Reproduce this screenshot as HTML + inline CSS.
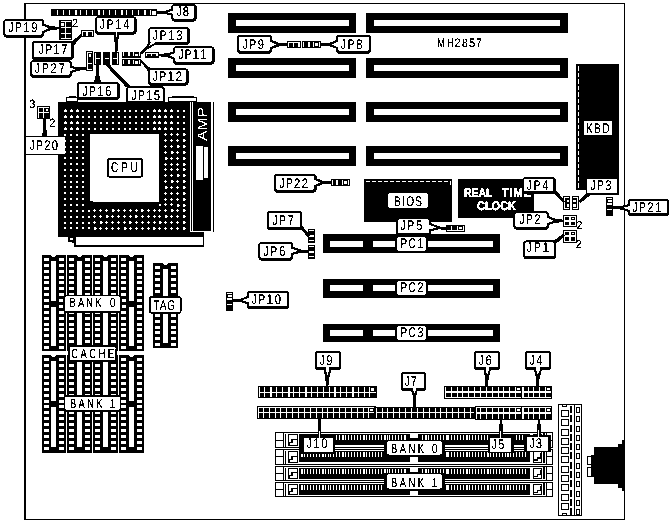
<!DOCTYPE html>
<html><head><meta charset="utf-8"><title>MH2857</title>
<style>
html,body{margin:0;padding:0;background:#fff;}
body{width:672px;height:522px;overflow:hidden;}
svg{display:block;font-family:"Liberation Sans",sans-serif;}
</style></head><body>
<svg width="672" height="522" viewBox="0 0 672 522" shape-rendering="crispEdges" text-rendering="geometricPrecision">
<defs><filter id="bw" x="0" y="0" width="100%" height="100%" color-interpolation-filters="sRGB"><feColorMatrix type="saturate" values="0"/><feComponentTransfer><feFuncR type="discrete" tableValues="0 0 0 1 1"/><feFuncG type="discrete" tableValues="0 0 0 1 1"/><feFuncB type="discrete" tableValues="0 0 0 1 1"/></feComponentTransfer></filter></defs>
<g filter="url(#bw)">
<rect x="0" y="0" width="672" height="522" fill="#fff"/>
<rect x="24" y="3" width="601" height="516.5" fill="#000"/>
<rect x="26" y="4" width="598" height="514.5" fill="#fff"/>
<rect x="228" y="13" width="128" height="20" fill="#000"/>
<rect x="236" y="20" width="113" height="6" fill="#fff"/>
<rect x="366" y="13" width="202" height="20" fill="#000"/>
<rect x="374" y="20" width="186" height="6" fill="#fff"/>
<rect x="228" y="58" width="128" height="20" fill="#000"/>
<rect x="236" y="65" width="113" height="6" fill="#fff"/>
<rect x="366" y="58" width="202" height="20" fill="#000"/>
<rect x="374" y="65" width="186" height="6" fill="#fff"/>
<rect x="228" y="102" width="128" height="20" fill="#000"/>
<rect x="236" y="109" width="113" height="6" fill="#fff"/>
<rect x="366" y="102" width="202" height="20" fill="#000"/>
<rect x="374" y="109" width="186" height="6" fill="#fff"/>
<rect x="228" y="146" width="128" height="20" fill="#000"/>
<rect x="236" y="153" width="113" height="6" fill="#fff"/>
<rect x="366" y="146" width="202" height="20" fill="#000"/>
<rect x="374" y="153" width="186" height="6" fill="#fff"/>
<rect x="323" y="234" width="177" height="19" fill="#000"/>
<rect x="330" y="241" width="33" height="6" fill="#fff"/>
<rect x="373" y="241" width="22" height="6" fill="#fff"/>
<rect x="428" y="241" width="65" height="6" fill="#fff"/>
<rect x="323" y="279" width="177" height="19" fill="#000"/>
<rect x="330" y="285" width="33" height="6" fill="#fff"/>
<rect x="373" y="285" width="22" height="6" fill="#fff"/>
<rect x="428" y="285" width="65" height="6" fill="#fff"/>
<rect x="323" y="324" width="177" height="18" fill="#000"/>
<rect x="330" y="330" width="33" height="6" fill="#fff"/>
<rect x="373" y="330" width="22" height="6" fill="#fff"/>
<rect x="428" y="330" width="65" height="6" fill="#fff"/>
<rect x="576" y="64" width="43" height="126" fill="#000"/>
<line x1="578.5" y1="66" x2="578.5" y2="189" stroke="#fff" stroke-width="1" stroke-dasharray="4.5 2"/>
<rect x="364" y="179" width="88" height="42.5" fill="#000"/>
<line x1="366" y1="181.5" x2="450" y2="181.5" stroke="#fff" stroke-width="1" stroke-dasharray="4 2"/>
<line x1="450.5" y1="181" x2="450.5" y2="185" stroke="#fff" stroke-width="1"/>
<rect x="458" y="179" width="75.5" height="38.5" fill="#000"/>
<text transform="translate(464,196.5) scale(0.85,1)" font-size="12.5" textLength="33.53" lengthAdjust="spacing" fill="#fff" stroke="#fff" stroke-width="0.55" font-weight="bold">REAL</text>
<text transform="translate(502,196.5) scale(0.85,1)" font-size="12.5" textLength="34.12" lengthAdjust="spacing" fill="#fff" stroke="#fff" stroke-width="0.55" font-weight="bold">TIME</text>
<text transform="translate(477,210) scale(0.88,1)" font-size="12.5" textLength="44.32" lengthAdjust="spacing" fill="#fff" stroke="#fff" stroke-width="0.55" font-weight="bold">CLOCK</text>
<text transform="translate(437.2,46.8) scale(0.74,1)" font-size="12.3" fill="#000" stroke="#000" stroke-width="0.04">M</text>
<text transform="translate(447.1,46.8) scale(0.77,1)" font-size="12.3" fill="#000" stroke="#000" stroke-width="0.04">H</text>
<text transform="translate(454.6,46.8) scale(0.9,1)" font-size="12.3" fill="#000" stroke="#000" stroke-width="0.04">2</text>
<text transform="translate(462.1,46.8) scale(0.85,1)" font-size="12.3" fill="#000" stroke="#000" stroke-width="0.04">8</text>
<text transform="translate(469.1,46.8) scale(0.9,1)" font-size="12.3" fill="#000" stroke="#000" stroke-width="0.04">5</text>
<text transform="translate(476.1,46.8) scale(0.85,1)" font-size="12.3" fill="#000" stroke="#000" stroke-width="0.04">7</text>
<rect x="66" y="96.5" width="12" height="5" fill="#000"/>
<rect x="67" y="97.5" width="10" height="3" fill="#fff"/>
<rect x="69" y="96" width="7" height="1.5" fill="#000"/>
<rect x="168" y="96.5" width="29" height="5" fill="#000"/>
<rect x="169" y="97.5" width="27" height="3" fill="#fff"/>
<rect x="172" y="96" width="22" height="1.5" fill="#000"/>
<rect x="58" y="102" width="132" height="134.5" fill="#000"/>
<rect x="190" y="232" width="14" height="4.5" fill="#000"/>
<rect x="64" y="110" width="3" height="2" fill="#fff"/>
<rect x="65" y="109" width="1" height="1" fill="#fff"/>
<rect x="64" y="116" width="3" height="2" fill="#fff"/>
<rect x="65" y="115" width="1" height="1" fill="#fff"/>
<rect x="64" y="122" width="3" height="2" fill="#fff"/>
<rect x="65" y="121" width="1" height="1" fill="#fff"/>
<rect x="64" y="128" width="3" height="2" fill="#fff"/>
<rect x="65" y="127" width="1" height="1" fill="#fff"/>
<rect x="64" y="134" width="2" height="2" fill="#fff"/>
<rect x="64" y="140" width="2" height="2" fill="#fff"/>
<rect x="64" y="146" width="2" height="2" fill="#fff"/>
<rect x="64" y="151" width="2" height="2" fill="#fff"/>
<rect x="64" y="157" width="2" height="2" fill="#fff"/>
<rect x="64" y="163" width="2" height="2" fill="#fff"/>
<rect x="64" y="169" width="2" height="2" fill="#fff"/>
<rect x="64" y="175" width="2" height="2" fill="#fff"/>
<rect x="64" y="181" width="2" height="2" fill="#fff"/>
<rect x="64" y="186" width="2" height="2" fill="#fff"/>
<rect x="64" y="192" width="2" height="2" fill="#fff"/>
<rect x="64" y="198" width="2" height="2" fill="#fff"/>
<rect x="64" y="204" width="2" height="2" fill="#fff"/>
<rect x="64" y="210" width="2" height="2" fill="#fff"/>
<rect x="64" y="216" width="2" height="2" fill="#fff"/>
<rect x="64" y="222" width="2" height="2" fill="#fff"/>
<rect x="64" y="227" width="2" height="2" fill="#fff"/>
<rect x="70" y="110" width="3" height="2" fill="#fff"/>
<rect x="71" y="109" width="1" height="1" fill="#fff"/>
<rect x="70" y="116" width="3" height="2" fill="#fff"/>
<rect x="71" y="115" width="1" height="1" fill="#fff"/>
<rect x="70" y="122" width="3" height="2" fill="#fff"/>
<rect x="71" y="121" width="1" height="1" fill="#fff"/>
<rect x="70" y="128" width="3" height="2" fill="#fff"/>
<rect x="71" y="127" width="1" height="1" fill="#fff"/>
<rect x="70" y="134" width="2" height="2" fill="#fff"/>
<rect x="70" y="140" width="2" height="2" fill="#fff"/>
<rect x="70" y="146" width="2" height="2" fill="#fff"/>
<rect x="70" y="151" width="2" height="2" fill="#fff"/>
<rect x="70" y="157" width="2" height="2" fill="#fff"/>
<rect x="70" y="163" width="2" height="2" fill="#fff"/>
<rect x="70" y="169" width="2" height="2" fill="#fff"/>
<rect x="70" y="175" width="2" height="2" fill="#fff"/>
<rect x="70" y="181" width="2" height="2" fill="#fff"/>
<rect x="70" y="186" width="2" height="2" fill="#fff"/>
<rect x="70" y="192" width="2" height="2" fill="#fff"/>
<rect x="70" y="198" width="2" height="2" fill="#fff"/>
<rect x="70" y="204" width="2" height="2" fill="#fff"/>
<rect x="70" y="210" width="2" height="2" fill="#fff"/>
<rect x="70" y="216" width="2" height="2" fill="#fff"/>
<rect x="70" y="222" width="2" height="2" fill="#fff"/>
<rect x="70" y="227" width="2" height="2" fill="#fff"/>
<rect x="76" y="110" width="3" height="2" fill="#fff"/>
<rect x="77" y="109" width="1" height="1" fill="#fff"/>
<rect x="76" y="116" width="3" height="2" fill="#fff"/>
<rect x="77" y="115" width="1" height="1" fill="#fff"/>
<rect x="76" y="122" width="3" height="2" fill="#fff"/>
<rect x="77" y="121" width="1" height="1" fill="#fff"/>
<rect x="76" y="128" width="3" height="2" fill="#fff"/>
<rect x="77" y="127" width="1" height="1" fill="#fff"/>
<rect x="76" y="134" width="2" height="2" fill="#fff"/>
<rect x="76" y="140" width="2" height="2" fill="#fff"/>
<rect x="76" y="146" width="2" height="2" fill="#fff"/>
<rect x="76" y="151" width="2" height="2" fill="#fff"/>
<rect x="76" y="157" width="2" height="2" fill="#fff"/>
<rect x="76" y="163" width="2" height="2" fill="#fff"/>
<rect x="76" y="169" width="2" height="2" fill="#fff"/>
<rect x="76" y="175" width="2" height="2" fill="#fff"/>
<rect x="76" y="181" width="2" height="2" fill="#fff"/>
<rect x="76" y="186" width="2" height="2" fill="#fff"/>
<rect x="76" y="192" width="2" height="2" fill="#fff"/>
<rect x="76" y="198" width="2" height="2" fill="#fff"/>
<rect x="76" y="204" width="2" height="2" fill="#fff"/>
<rect x="76" y="210" width="2" height="2" fill="#fff"/>
<rect x="76" y="216" width="2" height="2" fill="#fff"/>
<rect x="76" y="222" width="2" height="2" fill="#fff"/>
<rect x="76" y="227" width="2" height="2" fill="#fff"/>
<rect x="82" y="110" width="2" height="2" fill="#fff"/>
<rect x="82" y="116" width="2" height="2" fill="#fff"/>
<rect x="82" y="122" width="2" height="2" fill="#fff"/>
<rect x="82" y="128" width="2" height="2" fill="#fff"/>
<rect x="82" y="134" width="2" height="2" fill="#fff"/>
<rect x="82" y="140" width="2" height="2" fill="#fff"/>
<rect x="82" y="146" width="2" height="2" fill="#fff"/>
<rect x="82" y="151" width="2" height="2" fill="#fff"/>
<rect x="82" y="157" width="2" height="2" fill="#fff"/>
<rect x="82" y="163" width="2" height="2" fill="#fff"/>
<rect x="82" y="169" width="2" height="2" fill="#fff"/>
<rect x="82" y="175" width="2" height="2" fill="#fff"/>
<rect x="82" y="181" width="2" height="2" fill="#fff"/>
<rect x="82" y="186" width="2" height="2" fill="#fff"/>
<rect x="82" y="192" width="2" height="2" fill="#fff"/>
<rect x="82" y="198" width="2" height="2" fill="#fff"/>
<rect x="82" y="204" width="2" height="2" fill="#fff"/>
<rect x="82" y="210" width="2" height="2" fill="#fff"/>
<rect x="82" y="216" width="2" height="2" fill="#fff"/>
<rect x="82" y="222" width="2" height="2" fill="#fff"/>
<rect x="82" y="227" width="2" height="2" fill="#fff"/>
<rect x="88" y="110" width="2" height="2" fill="#fff"/>
<rect x="88" y="116" width="2" height="2" fill="#fff"/>
<rect x="88" y="122" width="2" height="2" fill="#fff"/>
<rect x="88" y="128" width="2" height="2" fill="#fff"/>
<rect x="88" y="210" width="2" height="2" fill="#fff"/>
<rect x="88" y="216" width="2" height="2" fill="#fff"/>
<rect x="88" y="222" width="2" height="2" fill="#fff"/>
<rect x="88" y="227" width="2" height="2" fill="#fff"/>
<rect x="94" y="110" width="2" height="2" fill="#fff"/>
<rect x="94" y="116" width="2" height="2" fill="#fff"/>
<rect x="94" y="122" width="2" height="2" fill="#fff"/>
<rect x="94" y="128" width="2" height="2" fill="#fff"/>
<rect x="93" y="210" width="3" height="1" fill="#fff"/>
<rect x="94" y="209" width="1" height="3" fill="#fff"/>
<rect x="93" y="216" width="3" height="1" fill="#fff"/>
<rect x="94" y="215" width="1" height="3" fill="#fff"/>
<rect x="93" y="222" width="3" height="1" fill="#fff"/>
<rect x="94" y="221" width="1" height="3" fill="#fff"/>
<rect x="94" y="227" width="1" height="3" fill="#fff"/>
<rect x="95" y="227" width="1" height="3" fill="#fff"/>
<rect x="96" y="228" width="1" height="1" fill="#fff"/>
<rect x="100" y="110" width="2" height="2" fill="#fff"/>
<rect x="100" y="116" width="2" height="2" fill="#fff"/>
<rect x="100" y="122" width="2" height="2" fill="#fff"/>
<rect x="100" y="128" width="2" height="2" fill="#fff"/>
<rect x="99" y="210" width="3" height="1" fill="#fff"/>
<rect x="100" y="209" width="1" height="3" fill="#fff"/>
<rect x="99" y="216" width="3" height="1" fill="#fff"/>
<rect x="100" y="215" width="1" height="3" fill="#fff"/>
<rect x="100" y="221" width="1" height="3" fill="#fff"/>
<rect x="101" y="221" width="1" height="3" fill="#fff"/>
<rect x="102" y="222" width="1" height="1" fill="#fff"/>
<rect x="99" y="228" width="3" height="1" fill="#fff"/>
<rect x="100" y="227" width="1" height="3" fill="#fff"/>
<rect x="106" y="110" width="2" height="2" fill="#fff"/>
<rect x="106" y="116" width="2" height="2" fill="#fff"/>
<rect x="106" y="122" width="2" height="2" fill="#fff"/>
<rect x="106" y="128" width="2" height="2" fill="#fff"/>
<rect x="105" y="210" width="3" height="1" fill="#fff"/>
<rect x="106" y="209" width="1" height="3" fill="#fff"/>
<rect x="106" y="215" width="1" height="3" fill="#fff"/>
<rect x="107" y="215" width="1" height="3" fill="#fff"/>
<rect x="108" y="216" width="1" height="1" fill="#fff"/>
<rect x="105" y="222" width="3" height="1" fill="#fff"/>
<rect x="106" y="221" width="1" height="3" fill="#fff"/>
<rect x="105" y="228" width="3" height="1" fill="#fff"/>
<rect x="106" y="227" width="1" height="3" fill="#fff"/>
<rect x="112" y="110" width="2" height="2" fill="#fff"/>
<rect x="112" y="116" width="2" height="2" fill="#fff"/>
<rect x="112" y="122" width="2" height="2" fill="#fff"/>
<rect x="112" y="128" width="2" height="2" fill="#fff"/>
<rect x="112" y="209" width="1" height="3" fill="#fff"/>
<rect x="113" y="209" width="1" height="3" fill="#fff"/>
<rect x="114" y="210" width="1" height="1" fill="#fff"/>
<rect x="111" y="216" width="3" height="1" fill="#fff"/>
<rect x="112" y="215" width="1" height="3" fill="#fff"/>
<rect x="111" y="222" width="3" height="1" fill="#fff"/>
<rect x="112" y="221" width="1" height="3" fill="#fff"/>
<rect x="111" y="228" width="3" height="1" fill="#fff"/>
<rect x="112" y="227" width="1" height="3" fill="#fff"/>
<rect x="118" y="110" width="2" height="2" fill="#fff"/>
<rect x="118" y="116" width="2" height="2" fill="#fff"/>
<rect x="118" y="122" width="2" height="2" fill="#fff"/>
<rect x="118" y="128" width="2" height="2" fill="#fff"/>
<rect x="117" y="210" width="3" height="1" fill="#fff"/>
<rect x="118" y="209" width="1" height="3" fill="#fff"/>
<rect x="117" y="216" width="3" height="1" fill="#fff"/>
<rect x="118" y="215" width="1" height="3" fill="#fff"/>
<rect x="117" y="222" width="3" height="1" fill="#fff"/>
<rect x="118" y="221" width="1" height="3" fill="#fff"/>
<rect x="117" y="228" width="3" height="1" fill="#fff"/>
<rect x="118" y="227" width="1" height="3" fill="#fff"/>
<rect x="124" y="110" width="2" height="2" fill="#fff"/>
<rect x="124" y="116" width="2" height="2" fill="#fff"/>
<rect x="124" y="122" width="2" height="2" fill="#fff"/>
<rect x="124" y="128" width="2" height="2" fill="#fff"/>
<rect x="123" y="210" width="3" height="1" fill="#fff"/>
<rect x="124" y="209" width="1" height="3" fill="#fff"/>
<rect x="123" y="216" width="3" height="1" fill="#fff"/>
<rect x="124" y="215" width="1" height="3" fill="#fff"/>
<rect x="123" y="222" width="3" height="1" fill="#fff"/>
<rect x="124" y="221" width="1" height="3" fill="#fff"/>
<rect x="124" y="227" width="1" height="3" fill="#fff"/>
<rect x="125" y="227" width="1" height="3" fill="#fff"/>
<rect x="126" y="228" width="1" height="1" fill="#fff"/>
<rect x="129" y="110" width="2" height="2" fill="#fff"/>
<rect x="129" y="116" width="2" height="2" fill="#fff"/>
<rect x="129" y="122" width="2" height="2" fill="#fff"/>
<rect x="129" y="128" width="2" height="2" fill="#fff"/>
<rect x="129" y="210" width="3" height="1" fill="#fff"/>
<rect x="130" y="209" width="1" height="3" fill="#fff"/>
<rect x="129" y="216" width="3" height="1" fill="#fff"/>
<rect x="130" y="215" width="1" height="3" fill="#fff"/>
<rect x="129" y="221" width="1" height="3" fill="#fff"/>
<rect x="130" y="221" width="1" height="3" fill="#fff"/>
<rect x="131" y="222" width="1" height="1" fill="#fff"/>
<rect x="129" y="228" width="3" height="1" fill="#fff"/>
<rect x="130" y="227" width="1" height="3" fill="#fff"/>
<rect x="135" y="110" width="2" height="2" fill="#fff"/>
<rect x="135" y="116" width="2" height="2" fill="#fff"/>
<rect x="135" y="122" width="2" height="2" fill="#fff"/>
<rect x="135" y="128" width="2" height="2" fill="#fff"/>
<rect x="135" y="210" width="3" height="1" fill="#fff"/>
<rect x="136" y="209" width="1" height="3" fill="#fff"/>
<rect x="135" y="215" width="1" height="3" fill="#fff"/>
<rect x="136" y="215" width="1" height="3" fill="#fff"/>
<rect x="137" y="216" width="1" height="1" fill="#fff"/>
<rect x="135" y="222" width="3" height="1" fill="#fff"/>
<rect x="136" y="221" width="1" height="3" fill="#fff"/>
<rect x="135" y="228" width="3" height="1" fill="#fff"/>
<rect x="136" y="227" width="1" height="3" fill="#fff"/>
<rect x="141" y="110" width="2" height="2" fill="#fff"/>
<rect x="141" y="116" width="2" height="2" fill="#fff"/>
<rect x="141" y="122" width="2" height="2" fill="#fff"/>
<rect x="141" y="128" width="2" height="2" fill="#fff"/>
<rect x="141" y="209" width="1" height="3" fill="#fff"/>
<rect x="142" y="209" width="1" height="3" fill="#fff"/>
<rect x="143" y="210" width="1" height="1" fill="#fff"/>
<rect x="141" y="216" width="3" height="1" fill="#fff"/>
<rect x="142" y="215" width="1" height="3" fill="#fff"/>
<rect x="141" y="222" width="3" height="1" fill="#fff"/>
<rect x="142" y="221" width="1" height="3" fill="#fff"/>
<rect x="141" y="228" width="3" height="1" fill="#fff"/>
<rect x="142" y="227" width="1" height="3" fill="#fff"/>
<rect x="147" y="110" width="2" height="2" fill="#fff"/>
<rect x="147" y="116" width="2" height="2" fill="#fff"/>
<rect x="147" y="122" width="2" height="2" fill="#fff"/>
<rect x="147" y="128" width="2" height="2" fill="#fff"/>
<rect x="147" y="210" width="3" height="1" fill="#fff"/>
<rect x="148" y="209" width="1" height="3" fill="#fff"/>
<rect x="147" y="216" width="3" height="1" fill="#fff"/>
<rect x="148" y="215" width="1" height="3" fill="#fff"/>
<rect x="147" y="222" width="3" height="1" fill="#fff"/>
<rect x="148" y="221" width="1" height="3" fill="#fff"/>
<rect x="147" y="228" width="3" height="1" fill="#fff"/>
<rect x="148" y="227" width="1" height="3" fill="#fff"/>
<rect x="153" y="110" width="3" height="2" fill="#fff"/>
<rect x="154" y="109" width="1" height="1" fill="#fff"/>
<rect x="153" y="116" width="3" height="2" fill="#fff"/>
<rect x="154" y="115" width="1" height="1" fill="#fff"/>
<rect x="153" y="122" width="3" height="2" fill="#fff"/>
<rect x="154" y="121" width="1" height="1" fill="#fff"/>
<rect x="153" y="128" width="3" height="2" fill="#fff"/>
<rect x="154" y="127" width="1" height="1" fill="#fff"/>
<rect x="153" y="210" width="3" height="1" fill="#fff"/>
<rect x="154" y="209" width="1" height="3" fill="#fff"/>
<rect x="153" y="216" width="3" height="1" fill="#fff"/>
<rect x="154" y="215" width="1" height="3" fill="#fff"/>
<rect x="153" y="222" width="3" height="1" fill="#fff"/>
<rect x="154" y="221" width="1" height="3" fill="#fff"/>
<rect x="153" y="227" width="1" height="3" fill="#fff"/>
<rect x="154" y="227" width="1" height="3" fill="#fff"/>
<rect x="155" y="228" width="1" height="1" fill="#fff"/>
<rect x="158" y="110" width="3" height="2" fill="#fff"/>
<rect x="159" y="109" width="1" height="1" fill="#fff"/>
<rect x="158" y="116" width="3" height="2" fill="#fff"/>
<rect x="159" y="115" width="1" height="1" fill="#fff"/>
<rect x="158" y="122" width="3" height="2" fill="#fff"/>
<rect x="159" y="121" width="1" height="1" fill="#fff"/>
<rect x="158" y="128" width="3" height="2" fill="#fff"/>
<rect x="159" y="127" width="1" height="1" fill="#fff"/>
<rect x="159" y="204" width="2" height="2" fill="#fff"/>
<rect x="158" y="210" width="3" height="1" fill="#fff"/>
<rect x="159" y="209" width="1" height="3" fill="#fff"/>
<rect x="158" y="216" width="3" height="1" fill="#fff"/>
<rect x="159" y="215" width="1" height="3" fill="#fff"/>
<rect x="159" y="221" width="1" height="3" fill="#fff"/>
<rect x="160" y="221" width="1" height="3" fill="#fff"/>
<rect x="161" y="222" width="1" height="1" fill="#fff"/>
<rect x="158" y="228" width="3" height="1" fill="#fff"/>
<rect x="159" y="227" width="1" height="3" fill="#fff"/>
<rect x="164" y="110" width="3" height="2" fill="#fff"/>
<rect x="165" y="109" width="1" height="1" fill="#fff"/>
<rect x="164" y="116" width="3" height="2" fill="#fff"/>
<rect x="165" y="115" width="1" height="1" fill="#fff"/>
<rect x="164" y="122" width="3" height="2" fill="#fff"/>
<rect x="165" y="121" width="1" height="1" fill="#fff"/>
<rect x="164" y="128" width="3" height="2" fill="#fff"/>
<rect x="165" y="127" width="1" height="1" fill="#fff"/>
<rect x="164" y="134" width="3" height="1" fill="#fff"/>
<rect x="165" y="133" width="1" height="3" fill="#fff"/>
<rect x="164" y="140" width="3" height="1" fill="#fff"/>
<rect x="165" y="139" width="1" height="3" fill="#fff"/>
<rect x="164" y="146" width="3" height="1" fill="#fff"/>
<rect x="165" y="145" width="1" height="3" fill="#fff"/>
<rect x="164" y="152" width="3" height="1" fill="#fff"/>
<rect x="165" y="151" width="1" height="3" fill="#fff"/>
<rect x="165" y="157" width="1" height="3" fill="#fff"/>
<rect x="166" y="157" width="1" height="3" fill="#fff"/>
<rect x="167" y="158" width="1" height="1" fill="#fff"/>
<rect x="164" y="164" width="3" height="1" fill="#fff"/>
<rect x="165" y="163" width="1" height="3" fill="#fff"/>
<rect x="164" y="169" width="3" height="1" fill="#fff"/>
<rect x="165" y="168" width="1" height="3" fill="#fff"/>
<rect x="164" y="175" width="3" height="1" fill="#fff"/>
<rect x="165" y="174" width="1" height="3" fill="#fff"/>
<rect x="164" y="181" width="3" height="1" fill="#fff"/>
<rect x="165" y="180" width="1" height="3" fill="#fff"/>
<rect x="165" y="186" width="1" height="3" fill="#fff"/>
<rect x="166" y="186" width="1" height="3" fill="#fff"/>
<rect x="167" y="187" width="1" height="1" fill="#fff"/>
<rect x="164" y="193" width="3" height="1" fill="#fff"/>
<rect x="165" y="192" width="1" height="3" fill="#fff"/>
<rect x="164" y="199" width="3" height="1" fill="#fff"/>
<rect x="165" y="198" width="1" height="3" fill="#fff"/>
<rect x="164" y="204" width="3" height="1" fill="#fff"/>
<rect x="165" y="203" width="1" height="3" fill="#fff"/>
<rect x="164" y="210" width="3" height="1" fill="#fff"/>
<rect x="165" y="209" width="1" height="3" fill="#fff"/>
<rect x="165" y="215" width="1" height="3" fill="#fff"/>
<rect x="166" y="215" width="1" height="3" fill="#fff"/>
<rect x="167" y="216" width="1" height="1" fill="#fff"/>
<rect x="164" y="222" width="3" height="1" fill="#fff"/>
<rect x="165" y="221" width="1" height="3" fill="#fff"/>
<rect x="164" y="228" width="3" height="1" fill="#fff"/>
<rect x="165" y="227" width="1" height="3" fill="#fff"/>
<rect x="170" y="110" width="3" height="2" fill="#fff"/>
<rect x="171" y="109" width="1" height="1" fill="#fff"/>
<rect x="170" y="116" width="3" height="2" fill="#fff"/>
<rect x="171" y="115" width="1" height="1" fill="#fff"/>
<rect x="170" y="122" width="3" height="2" fill="#fff"/>
<rect x="171" y="121" width="1" height="1" fill="#fff"/>
<rect x="170" y="128" width="3" height="2" fill="#fff"/>
<rect x="171" y="127" width="1" height="1" fill="#fff"/>
<rect x="170" y="134" width="3" height="1" fill="#fff"/>
<rect x="171" y="133" width="1" height="3" fill="#fff"/>
<rect x="170" y="140" width="3" height="1" fill="#fff"/>
<rect x="171" y="139" width="1" height="3" fill="#fff"/>
<rect x="170" y="146" width="3" height="1" fill="#fff"/>
<rect x="171" y="145" width="1" height="3" fill="#fff"/>
<rect x="171" y="151" width="1" height="3" fill="#fff"/>
<rect x="172" y="151" width="1" height="3" fill="#fff"/>
<rect x="173" y="152" width="1" height="1" fill="#fff"/>
<rect x="170" y="158" width="3" height="1" fill="#fff"/>
<rect x="171" y="157" width="1" height="3" fill="#fff"/>
<rect x="170" y="164" width="3" height="1" fill="#fff"/>
<rect x="171" y="163" width="1" height="3" fill="#fff"/>
<rect x="170" y="169" width="3" height="1" fill="#fff"/>
<rect x="171" y="168" width="1" height="3" fill="#fff"/>
<rect x="170" y="175" width="3" height="1" fill="#fff"/>
<rect x="171" y="174" width="1" height="3" fill="#fff"/>
<rect x="171" y="180" width="1" height="3" fill="#fff"/>
<rect x="172" y="180" width="1" height="3" fill="#fff"/>
<rect x="173" y="181" width="1" height="1" fill="#fff"/>
<rect x="170" y="187" width="3" height="1" fill="#fff"/>
<rect x="171" y="186" width="1" height="3" fill="#fff"/>
<rect x="170" y="193" width="3" height="1" fill="#fff"/>
<rect x="171" y="192" width="1" height="3" fill="#fff"/>
<rect x="170" y="199" width="3" height="1" fill="#fff"/>
<rect x="171" y="198" width="1" height="3" fill="#fff"/>
<rect x="170" y="204" width="3" height="1" fill="#fff"/>
<rect x="171" y="203" width="1" height="3" fill="#fff"/>
<rect x="171" y="209" width="1" height="3" fill="#fff"/>
<rect x="172" y="209" width="1" height="3" fill="#fff"/>
<rect x="173" y="210" width="1" height="1" fill="#fff"/>
<rect x="170" y="216" width="3" height="1" fill="#fff"/>
<rect x="171" y="215" width="1" height="3" fill="#fff"/>
<rect x="170" y="222" width="3" height="1" fill="#fff"/>
<rect x="171" y="221" width="1" height="3" fill="#fff"/>
<rect x="170" y="228" width="3" height="1" fill="#fff"/>
<rect x="171" y="227" width="1" height="3" fill="#fff"/>
<rect x="177" y="110" width="2" height="2" fill="#fff"/>
<rect x="177" y="116" width="2" height="2" fill="#fff"/>
<rect x="177" y="122" width="2" height="2" fill="#fff"/>
<rect x="177" y="128" width="2" height="2" fill="#fff"/>
<rect x="176" y="134" width="3" height="1" fill="#fff"/>
<rect x="177" y="133" width="1" height="3" fill="#fff"/>
<rect x="176" y="140" width="3" height="1" fill="#fff"/>
<rect x="177" y="139" width="1" height="3" fill="#fff"/>
<rect x="177" y="145" width="1" height="3" fill="#fff"/>
<rect x="178" y="145" width="1" height="3" fill="#fff"/>
<rect x="179" y="146" width="1" height="1" fill="#fff"/>
<rect x="176" y="152" width="3" height="1" fill="#fff"/>
<rect x="177" y="151" width="1" height="3" fill="#fff"/>
<rect x="176" y="158" width="3" height="1" fill="#fff"/>
<rect x="177" y="157" width="1" height="3" fill="#fff"/>
<rect x="176" y="164" width="3" height="1" fill="#fff"/>
<rect x="177" y="163" width="1" height="3" fill="#fff"/>
<rect x="176" y="169" width="3" height="1" fill="#fff"/>
<rect x="177" y="168" width="1" height="3" fill="#fff"/>
<rect x="177" y="174" width="1" height="3" fill="#fff"/>
<rect x="178" y="174" width="1" height="3" fill="#fff"/>
<rect x="179" y="175" width="1" height="1" fill="#fff"/>
<rect x="176" y="181" width="3" height="1" fill="#fff"/>
<rect x="177" y="180" width="1" height="3" fill="#fff"/>
<rect x="176" y="187" width="3" height="1" fill="#fff"/>
<rect x="177" y="186" width="1" height="3" fill="#fff"/>
<rect x="176" y="193" width="3" height="1" fill="#fff"/>
<rect x="177" y="192" width="1" height="3" fill="#fff"/>
<rect x="176" y="199" width="3" height="1" fill="#fff"/>
<rect x="177" y="198" width="1" height="3" fill="#fff"/>
<rect x="177" y="204" width="1" height="3" fill="#fff"/>
<rect x="178" y="204" width="1" height="3" fill="#fff"/>
<rect x="179" y="205" width="1" height="1" fill="#fff"/>
<rect x="176" y="210" width="3" height="1" fill="#fff"/>
<rect x="177" y="209" width="1" height="3" fill="#fff"/>
<rect x="176" y="216" width="3" height="1" fill="#fff"/>
<rect x="177" y="215" width="1" height="3" fill="#fff"/>
<rect x="176" y="222" width="3" height="1" fill="#fff"/>
<rect x="177" y="221" width="1" height="3" fill="#fff"/>
<rect x="176" y="228" width="3" height="1" fill="#fff"/>
<rect x="177" y="227" width="1" height="3" fill="#fff"/>
<rect x="183" y="110" width="2" height="2" fill="#fff"/>
<rect x="183" y="116" width="2" height="2" fill="#fff"/>
<rect x="183" y="122" width="2" height="2" fill="#fff"/>
<rect x="183" y="128" width="2" height="2" fill="#fff"/>
<rect x="183" y="133" width="1" height="3" fill="#fff"/>
<rect x="184" y="133" width="1" height="3" fill="#fff"/>
<rect x="185" y="134" width="1" height="1" fill="#fff"/>
<rect x="183" y="139" width="1" height="3" fill="#fff"/>
<rect x="184" y="139" width="1" height="3" fill="#fff"/>
<rect x="185" y="140" width="1" height="1" fill="#fff"/>
<rect x="183" y="145" width="1" height="3" fill="#fff"/>
<rect x="184" y="145" width="1" height="3" fill="#fff"/>
<rect x="185" y="146" width="1" height="1" fill="#fff"/>
<rect x="183" y="151" width="1" height="3" fill="#fff"/>
<rect x="184" y="151" width="1" height="3" fill="#fff"/>
<rect x="185" y="152" width="1" height="1" fill="#fff"/>
<rect x="183" y="157" width="1" height="3" fill="#fff"/>
<rect x="184" y="157" width="1" height="3" fill="#fff"/>
<rect x="185" y="158" width="1" height="1" fill="#fff"/>
<rect x="183" y="163" width="1" height="3" fill="#fff"/>
<rect x="184" y="163" width="1" height="3" fill="#fff"/>
<rect x="185" y="164" width="1" height="1" fill="#fff"/>
<rect x="183" y="168" width="1" height="3" fill="#fff"/>
<rect x="184" y="168" width="1" height="3" fill="#fff"/>
<rect x="185" y="169" width="1" height="1" fill="#fff"/>
<rect x="183" y="174" width="1" height="3" fill="#fff"/>
<rect x="184" y="174" width="1" height="3" fill="#fff"/>
<rect x="185" y="175" width="1" height="1" fill="#fff"/>
<rect x="183" y="180" width="1" height="3" fill="#fff"/>
<rect x="184" y="180" width="1" height="3" fill="#fff"/>
<rect x="185" y="181" width="1" height="1" fill="#fff"/>
<rect x="183" y="186" width="1" height="3" fill="#fff"/>
<rect x="184" y="186" width="1" height="3" fill="#fff"/>
<rect x="185" y="187" width="1" height="1" fill="#fff"/>
<rect x="183" y="192" width="1" height="3" fill="#fff"/>
<rect x="184" y="192" width="1" height="3" fill="#fff"/>
<rect x="185" y="193" width="1" height="1" fill="#fff"/>
<rect x="183" y="198" width="1" height="3" fill="#fff"/>
<rect x="184" y="198" width="1" height="3" fill="#fff"/>
<rect x="185" y="199" width="1" height="1" fill="#fff"/>
<rect x="183" y="204" width="1" height="3" fill="#fff"/>
<rect x="184" y="204" width="1" height="3" fill="#fff"/>
<rect x="185" y="205" width="1" height="1" fill="#fff"/>
<rect x="183" y="209" width="1" height="3" fill="#fff"/>
<rect x="184" y="209" width="1" height="3" fill="#fff"/>
<rect x="185" y="210" width="1" height="1" fill="#fff"/>
<rect x="183" y="215" width="1" height="3" fill="#fff"/>
<rect x="184" y="215" width="1" height="3" fill="#fff"/>
<rect x="185" y="216" width="1" height="1" fill="#fff"/>
<rect x="183" y="221" width="1" height="3" fill="#fff"/>
<rect x="184" y="221" width="1" height="3" fill="#fff"/>
<rect x="185" y="222" width="1" height="1" fill="#fff"/>
<rect x="183" y="227" width="1" height="3" fill="#fff"/>
<rect x="184" y="227" width="1" height="3" fill="#fff"/>
<rect x="185" y="228" width="1" height="1" fill="#fff"/>
<rect x="90" y="134" width="69" height="68" fill="#fff"/>
<rect x="90" y="201" width="3" height="1" fill="#000"/>
<rect x="191" y="102" width="1" height="129" fill="#000"/>
<rect x="193" y="102" width="18" height="129" fill="#000"/>
<rect x="212.5" y="102" width="1.5" height="130" fill="#000"/>
<rect x="196" y="146" width="6.5" height="34" fill="#fff"/>
<rect x="204" y="147" width="4" height="31" fill="#fff"/>
<text transform="translate(206.5,141) rotate(-90)" font-size="13.5" textLength="34" lengthAdjust="spacingAndGlyphs" fill="#fff" stroke="#fff" stroke-width="0.12">AMP</text>
<rect x="74" y="236.5" width="130" height="10" fill="#000"/>
<rect x="76" y="237" width="127" height="8" fill="#fff"/>
<polygon points="68,236.5 74,236.5 74,243 72,243 72,241.5 68,241.5" fill="#000"/>
<rect x="69.5" y="238" width="3" height="2" fill="#fff"/>
<rect x="42" y="255" width="24" height="96" fill="#000"/>
<rect x="44" y="258" width="5" height="3" fill="#fff"/>
<rect x="59" y="258" width="5" height="3" fill="#fff"/>
<rect x="44" y="264" width="5" height="3" fill="#fff"/>
<rect x="59" y="264" width="5" height="3" fill="#fff"/>
<rect x="44" y="270" width="5" height="3" fill="#fff"/>
<rect x="59" y="270" width="5" height="3" fill="#fff"/>
<rect x="44" y="276" width="5" height="3" fill="#fff"/>
<rect x="59" y="276" width="5" height="3" fill="#fff"/>
<rect x="44" y="281" width="5" height="3" fill="#fff"/>
<rect x="59" y="281" width="5" height="3" fill="#fff"/>
<rect x="44" y="287" width="5" height="3" fill="#fff"/>
<rect x="59" y="287" width="5" height="3" fill="#fff"/>
<rect x="44" y="293" width="5" height="3" fill="#fff"/>
<rect x="59" y="293" width="5" height="3" fill="#fff"/>
<rect x="44" y="299" width="5" height="3" fill="#fff"/>
<rect x="59" y="299" width="5" height="3" fill="#fff"/>
<rect x="44" y="305" width="5" height="3" fill="#fff"/>
<rect x="59" y="305" width="5" height="3" fill="#fff"/>
<rect x="44" y="311" width="5" height="3" fill="#fff"/>
<rect x="59" y="311" width="5" height="3" fill="#fff"/>
<rect x="44" y="317" width="5" height="3" fill="#fff"/>
<rect x="59" y="317" width="5" height="3" fill="#fff"/>
<rect x="44" y="323" width="5" height="3" fill="#fff"/>
<rect x="59" y="323" width="5" height="3" fill="#fff"/>
<rect x="44" y="328" width="5" height="3" fill="#fff"/>
<rect x="59" y="328" width="5" height="3" fill="#fff"/>
<rect x="44" y="334" width="5" height="3" fill="#fff"/>
<rect x="59" y="334" width="5" height="3" fill="#fff"/>
<rect x="44" y="340" width="5" height="3" fill="#fff"/>
<rect x="59" y="340" width="5" height="3" fill="#fff"/>
<rect x="44" y="346" width="5" height="3" fill="#fff"/>
<rect x="59" y="346" width="5" height="3" fill="#fff"/>
<rect x="51" y="260.9" width="5" height="40.08" fill="#fff"/>
<rect x="51" y="306.98" width="5" height="39.07" fill="#fff"/>
<polygon points="51,255 56,255 54.4,257.6 52.6,257.6" fill="#fff" shape-rendering="auto"/>
<rect x="42" y="355" width="24" height="97.5" fill="#000"/>
<rect x="44" y="358" width="5" height="3" fill="#fff"/>
<rect x="59" y="358" width="5" height="3" fill="#fff"/>
<rect x="44" y="364" width="5" height="3" fill="#fff"/>
<rect x="59" y="364" width="5" height="3" fill="#fff"/>
<rect x="44" y="370" width="5" height="3" fill="#fff"/>
<rect x="59" y="370" width="5" height="3" fill="#fff"/>
<rect x="44" y="376" width="5" height="3" fill="#fff"/>
<rect x="59" y="376" width="5" height="3" fill="#fff"/>
<rect x="44" y="382" width="5" height="3" fill="#fff"/>
<rect x="59" y="382" width="5" height="3" fill="#fff"/>
<rect x="44" y="388" width="5" height="3" fill="#fff"/>
<rect x="59" y="388" width="5" height="3" fill="#fff"/>
<rect x="44" y="394" width="5" height="3" fill="#fff"/>
<rect x="59" y="394" width="5" height="3" fill="#fff"/>
<rect x="44" y="400" width="5" height="3" fill="#fff"/>
<rect x="59" y="400" width="5" height="3" fill="#fff"/>
<rect x="44" y="405" width="5" height="3" fill="#fff"/>
<rect x="59" y="405" width="5" height="3" fill="#fff"/>
<rect x="44" y="411" width="5" height="3" fill="#fff"/>
<rect x="59" y="411" width="5" height="3" fill="#fff"/>
<rect x="44" y="417" width="5" height="3" fill="#fff"/>
<rect x="59" y="417" width="5" height="3" fill="#fff"/>
<rect x="44" y="423" width="5" height="3" fill="#fff"/>
<rect x="59" y="423" width="5" height="3" fill="#fff"/>
<rect x="44" y="429" width="5" height="3" fill="#fff"/>
<rect x="59" y="429" width="5" height="3" fill="#fff"/>
<rect x="44" y="435" width="5" height="3" fill="#fff"/>
<rect x="59" y="435" width="5" height="3" fill="#fff"/>
<rect x="44" y="441" width="5" height="3" fill="#fff"/>
<rect x="59" y="441" width="5" height="3" fill="#fff"/>
<rect x="44" y="447" width="5" height="3" fill="#fff"/>
<rect x="59" y="447" width="5" height="3" fill="#fff"/>
<rect x="51" y="361.4" width="5" height="40.08" fill="#fff"/>
<rect x="51" y="407.48" width="5" height="39.07" fill="#fff"/>
<polygon points="51,355 56,355 54.4,357.6 52.6,357.6" fill="#fff" shape-rendering="auto"/>
<rect x="67" y="255" width="25" height="96" fill="#000"/>
<rect x="69" y="258" width="5" height="3" fill="#fff"/>
<rect x="85" y="258" width="5" height="3" fill="#fff"/>
<rect x="69" y="264" width="5" height="3" fill="#fff"/>
<rect x="85" y="264" width="5" height="3" fill="#fff"/>
<rect x="69" y="270" width="5" height="3" fill="#fff"/>
<rect x="85" y="270" width="5" height="3" fill="#fff"/>
<rect x="69" y="276" width="5" height="3" fill="#fff"/>
<rect x="85" y="276" width="5" height="3" fill="#fff"/>
<rect x="69" y="281" width="5" height="3" fill="#fff"/>
<rect x="85" y="281" width="5" height="3" fill="#fff"/>
<rect x="69" y="287" width="5" height="3" fill="#fff"/>
<rect x="85" y="287" width="5" height="3" fill="#fff"/>
<rect x="69" y="293" width="5" height="3" fill="#fff"/>
<rect x="85" y="293" width="5" height="3" fill="#fff"/>
<rect x="69" y="299" width="5" height="3" fill="#fff"/>
<rect x="85" y="299" width="5" height="3" fill="#fff"/>
<rect x="69" y="305" width="5" height="3" fill="#fff"/>
<rect x="85" y="305" width="5" height="3" fill="#fff"/>
<rect x="69" y="311" width="5" height="3" fill="#fff"/>
<rect x="85" y="311" width="5" height="3" fill="#fff"/>
<rect x="69" y="317" width="5" height="3" fill="#fff"/>
<rect x="85" y="317" width="5" height="3" fill="#fff"/>
<rect x="69" y="323" width="5" height="3" fill="#fff"/>
<rect x="85" y="323" width="5" height="3" fill="#fff"/>
<rect x="69" y="328" width="5" height="3" fill="#fff"/>
<rect x="85" y="328" width="5" height="3" fill="#fff"/>
<rect x="69" y="334" width="5" height="3" fill="#fff"/>
<rect x="85" y="334" width="5" height="3" fill="#fff"/>
<rect x="69" y="340" width="5" height="3" fill="#fff"/>
<rect x="85" y="340" width="5" height="3" fill="#fff"/>
<rect x="69" y="346" width="5" height="3" fill="#fff"/>
<rect x="85" y="346" width="5" height="3" fill="#fff"/>
<rect x="77" y="260.9" width="5" height="40.08" fill="#fff"/>
<rect x="77" y="306.98" width="5" height="39.07" fill="#fff"/>
<polygon points="77,255 82,255 80.4,257.6 78.6,257.6" fill="#fff" shape-rendering="auto"/>
<rect x="67" y="355" width="25" height="97.5" fill="#000"/>
<rect x="69" y="358" width="5" height="3" fill="#fff"/>
<rect x="85" y="358" width="5" height="3" fill="#fff"/>
<rect x="69" y="364" width="5" height="3" fill="#fff"/>
<rect x="85" y="364" width="5" height="3" fill="#fff"/>
<rect x="69" y="370" width="5" height="3" fill="#fff"/>
<rect x="85" y="370" width="5" height="3" fill="#fff"/>
<rect x="69" y="376" width="5" height="3" fill="#fff"/>
<rect x="85" y="376" width="5" height="3" fill="#fff"/>
<rect x="69" y="382" width="5" height="3" fill="#fff"/>
<rect x="85" y="382" width="5" height="3" fill="#fff"/>
<rect x="69" y="388" width="5" height="3" fill="#fff"/>
<rect x="85" y="388" width="5" height="3" fill="#fff"/>
<rect x="69" y="394" width="5" height="3" fill="#fff"/>
<rect x="85" y="394" width="5" height="3" fill="#fff"/>
<rect x="69" y="400" width="5" height="3" fill="#fff"/>
<rect x="85" y="400" width="5" height="3" fill="#fff"/>
<rect x="69" y="405" width="5" height="3" fill="#fff"/>
<rect x="85" y="405" width="5" height="3" fill="#fff"/>
<rect x="69" y="411" width="5" height="3" fill="#fff"/>
<rect x="85" y="411" width="5" height="3" fill="#fff"/>
<rect x="69" y="417" width="5" height="3" fill="#fff"/>
<rect x="85" y="417" width="5" height="3" fill="#fff"/>
<rect x="69" y="423" width="5" height="3" fill="#fff"/>
<rect x="85" y="423" width="5" height="3" fill="#fff"/>
<rect x="69" y="429" width="5" height="3" fill="#fff"/>
<rect x="85" y="429" width="5" height="3" fill="#fff"/>
<rect x="69" y="435" width="5" height="3" fill="#fff"/>
<rect x="85" y="435" width="5" height="3" fill="#fff"/>
<rect x="69" y="441" width="5" height="3" fill="#fff"/>
<rect x="85" y="441" width="5" height="3" fill="#fff"/>
<rect x="69" y="447" width="5" height="3" fill="#fff"/>
<rect x="85" y="447" width="5" height="3" fill="#fff"/>
<rect x="77" y="361.4" width="5" height="40.08" fill="#fff"/>
<rect x="77" y="407.48" width="5" height="39.07" fill="#fff"/>
<polygon points="77,355 82,355 80.4,357.6 78.6,357.6" fill="#fff" shape-rendering="auto"/>
<rect x="93" y="255" width="25" height="96" fill="#000"/>
<rect x="95" y="258" width="5" height="3" fill="#fff"/>
<rect x="111" y="258" width="5" height="3" fill="#fff"/>
<rect x="95" y="264" width="5" height="3" fill="#fff"/>
<rect x="111" y="264" width="5" height="3" fill="#fff"/>
<rect x="95" y="270" width="5" height="3" fill="#fff"/>
<rect x="111" y="270" width="5" height="3" fill="#fff"/>
<rect x="95" y="276" width="5" height="3" fill="#fff"/>
<rect x="111" y="276" width="5" height="3" fill="#fff"/>
<rect x="95" y="281" width="5" height="3" fill="#fff"/>
<rect x="111" y="281" width="5" height="3" fill="#fff"/>
<rect x="95" y="287" width="5" height="3" fill="#fff"/>
<rect x="111" y="287" width="5" height="3" fill="#fff"/>
<rect x="95" y="293" width="5" height="3" fill="#fff"/>
<rect x="111" y="293" width="5" height="3" fill="#fff"/>
<rect x="95" y="299" width="5" height="3" fill="#fff"/>
<rect x="111" y="299" width="5" height="3" fill="#fff"/>
<rect x="95" y="305" width="5" height="3" fill="#fff"/>
<rect x="111" y="305" width="5" height="3" fill="#fff"/>
<rect x="95" y="311" width="5" height="3" fill="#fff"/>
<rect x="111" y="311" width="5" height="3" fill="#fff"/>
<rect x="95" y="317" width="5" height="3" fill="#fff"/>
<rect x="111" y="317" width="5" height="3" fill="#fff"/>
<rect x="95" y="323" width="5" height="3" fill="#fff"/>
<rect x="111" y="323" width="5" height="3" fill="#fff"/>
<rect x="95" y="328" width="5" height="3" fill="#fff"/>
<rect x="111" y="328" width="5" height="3" fill="#fff"/>
<rect x="95" y="334" width="5" height="3" fill="#fff"/>
<rect x="111" y="334" width="5" height="3" fill="#fff"/>
<rect x="95" y="340" width="5" height="3" fill="#fff"/>
<rect x="111" y="340" width="5" height="3" fill="#fff"/>
<rect x="95" y="346" width="5" height="3" fill="#fff"/>
<rect x="111" y="346" width="5" height="3" fill="#fff"/>
<rect x="103" y="260.9" width="5" height="40.08" fill="#fff"/>
<rect x="103" y="306.98" width="5" height="39.07" fill="#fff"/>
<polygon points="103,255 108,255 106.4,257.6 104.6,257.6" fill="#fff" shape-rendering="auto"/>
<rect x="93" y="355" width="25" height="97.5" fill="#000"/>
<rect x="95" y="358" width="5" height="3" fill="#fff"/>
<rect x="111" y="358" width="5" height="3" fill="#fff"/>
<rect x="95" y="364" width="5" height="3" fill="#fff"/>
<rect x="111" y="364" width="5" height="3" fill="#fff"/>
<rect x="95" y="370" width="5" height="3" fill="#fff"/>
<rect x="111" y="370" width="5" height="3" fill="#fff"/>
<rect x="95" y="376" width="5" height="3" fill="#fff"/>
<rect x="111" y="376" width="5" height="3" fill="#fff"/>
<rect x="95" y="382" width="5" height="3" fill="#fff"/>
<rect x="111" y="382" width="5" height="3" fill="#fff"/>
<rect x="95" y="388" width="5" height="3" fill="#fff"/>
<rect x="111" y="388" width="5" height="3" fill="#fff"/>
<rect x="95" y="394" width="5" height="3" fill="#fff"/>
<rect x="111" y="394" width="5" height="3" fill="#fff"/>
<rect x="95" y="400" width="5" height="3" fill="#fff"/>
<rect x="111" y="400" width="5" height="3" fill="#fff"/>
<rect x="95" y="405" width="5" height="3" fill="#fff"/>
<rect x="111" y="405" width="5" height="3" fill="#fff"/>
<rect x="95" y="411" width="5" height="3" fill="#fff"/>
<rect x="111" y="411" width="5" height="3" fill="#fff"/>
<rect x="95" y="417" width="5" height="3" fill="#fff"/>
<rect x="111" y="417" width="5" height="3" fill="#fff"/>
<rect x="95" y="423" width="5" height="3" fill="#fff"/>
<rect x="111" y="423" width="5" height="3" fill="#fff"/>
<rect x="95" y="429" width="5" height="3" fill="#fff"/>
<rect x="111" y="429" width="5" height="3" fill="#fff"/>
<rect x="95" y="435" width="5" height="3" fill="#fff"/>
<rect x="111" y="435" width="5" height="3" fill="#fff"/>
<rect x="95" y="441" width="5" height="3" fill="#fff"/>
<rect x="111" y="441" width="5" height="3" fill="#fff"/>
<rect x="95" y="447" width="5" height="3" fill="#fff"/>
<rect x="111" y="447" width="5" height="3" fill="#fff"/>
<rect x="103" y="361.4" width="5" height="40.08" fill="#fff"/>
<rect x="103" y="407.48" width="5" height="39.07" fill="#fff"/>
<polygon points="103,355 108,355 106.4,357.6 104.6,357.6" fill="#fff" shape-rendering="auto"/>
<rect x="119" y="255" width="25" height="96" fill="#000"/>
<rect x="121" y="258" width="5" height="3" fill="#fff"/>
<rect x="137" y="258" width="5" height="3" fill="#fff"/>
<rect x="121" y="264" width="5" height="3" fill="#fff"/>
<rect x="137" y="264" width="5" height="3" fill="#fff"/>
<rect x="121" y="270" width="5" height="3" fill="#fff"/>
<rect x="137" y="270" width="5" height="3" fill="#fff"/>
<rect x="121" y="276" width="5" height="3" fill="#fff"/>
<rect x="137" y="276" width="5" height="3" fill="#fff"/>
<rect x="121" y="281" width="5" height="3" fill="#fff"/>
<rect x="137" y="281" width="5" height="3" fill="#fff"/>
<rect x="121" y="287" width="5" height="3" fill="#fff"/>
<rect x="137" y="287" width="5" height="3" fill="#fff"/>
<rect x="121" y="293" width="5" height="3" fill="#fff"/>
<rect x="137" y="293" width="5" height="3" fill="#fff"/>
<rect x="121" y="299" width="5" height="3" fill="#fff"/>
<rect x="137" y="299" width="5" height="3" fill="#fff"/>
<rect x="121" y="305" width="5" height="3" fill="#fff"/>
<rect x="137" y="305" width="5" height="3" fill="#fff"/>
<rect x="121" y="311" width="5" height="3" fill="#fff"/>
<rect x="137" y="311" width="5" height="3" fill="#fff"/>
<rect x="121" y="317" width="5" height="3" fill="#fff"/>
<rect x="137" y="317" width="5" height="3" fill="#fff"/>
<rect x="121" y="323" width="5" height="3" fill="#fff"/>
<rect x="137" y="323" width="5" height="3" fill="#fff"/>
<rect x="121" y="328" width="5" height="3" fill="#fff"/>
<rect x="137" y="328" width="5" height="3" fill="#fff"/>
<rect x="121" y="334" width="5" height="3" fill="#fff"/>
<rect x="137" y="334" width="5" height="3" fill="#fff"/>
<rect x="121" y="340" width="5" height="3" fill="#fff"/>
<rect x="137" y="340" width="5" height="3" fill="#fff"/>
<rect x="121" y="346" width="5" height="3" fill="#fff"/>
<rect x="137" y="346" width="5" height="3" fill="#fff"/>
<rect x="129" y="260.9" width="5" height="40.08" fill="#fff"/>
<rect x="129" y="306.98" width="5" height="39.07" fill="#fff"/>
<polygon points="129,255 134,255 132.4,257.6 130.6,257.6" fill="#fff" shape-rendering="auto"/>
<rect x="119" y="355" width="25" height="97.5" fill="#000"/>
<rect x="121" y="358" width="5" height="3" fill="#fff"/>
<rect x="137" y="358" width="5" height="3" fill="#fff"/>
<rect x="121" y="364" width="5" height="3" fill="#fff"/>
<rect x="137" y="364" width="5" height="3" fill="#fff"/>
<rect x="121" y="370" width="5" height="3" fill="#fff"/>
<rect x="137" y="370" width="5" height="3" fill="#fff"/>
<rect x="121" y="376" width="5" height="3" fill="#fff"/>
<rect x="137" y="376" width="5" height="3" fill="#fff"/>
<rect x="121" y="382" width="5" height="3" fill="#fff"/>
<rect x="137" y="382" width="5" height="3" fill="#fff"/>
<rect x="121" y="388" width="5" height="3" fill="#fff"/>
<rect x="137" y="388" width="5" height="3" fill="#fff"/>
<rect x="121" y="394" width="5" height="3" fill="#fff"/>
<rect x="137" y="394" width="5" height="3" fill="#fff"/>
<rect x="121" y="400" width="5" height="3" fill="#fff"/>
<rect x="137" y="400" width="5" height="3" fill="#fff"/>
<rect x="121" y="405" width="5" height="3" fill="#fff"/>
<rect x="137" y="405" width="5" height="3" fill="#fff"/>
<rect x="121" y="411" width="5" height="3" fill="#fff"/>
<rect x="137" y="411" width="5" height="3" fill="#fff"/>
<rect x="121" y="417" width="5" height="3" fill="#fff"/>
<rect x="137" y="417" width="5" height="3" fill="#fff"/>
<rect x="121" y="423" width="5" height="3" fill="#fff"/>
<rect x="137" y="423" width="5" height="3" fill="#fff"/>
<rect x="121" y="429" width="5" height="3" fill="#fff"/>
<rect x="137" y="429" width="5" height="3" fill="#fff"/>
<rect x="121" y="435" width="5" height="3" fill="#fff"/>
<rect x="137" y="435" width="5" height="3" fill="#fff"/>
<rect x="121" y="441" width="5" height="3" fill="#fff"/>
<rect x="137" y="441" width="5" height="3" fill="#fff"/>
<rect x="121" y="447" width="5" height="3" fill="#fff"/>
<rect x="137" y="447" width="5" height="3" fill="#fff"/>
<rect x="129" y="361.4" width="5" height="40.08" fill="#fff"/>
<rect x="129" y="407.48" width="5" height="39.07" fill="#fff"/>
<polygon points="129,355 134,355 132.4,357.6 130.6,357.6" fill="#fff" shape-rendering="auto"/>
<rect x="153" y="263" width="25" height="85" fill="#000"/>
<rect x="155" y="266" width="5" height="3" fill="#fff"/>
<rect x="171" y="266" width="5" height="3" fill="#fff"/>
<rect x="155" y="272" width="5" height="3" fill="#fff"/>
<rect x="171" y="272" width="5" height="3" fill="#fff"/>
<rect x="155" y="278" width="5" height="3" fill="#fff"/>
<rect x="171" y="278" width="5" height="3" fill="#fff"/>
<rect x="155" y="284" width="5" height="3" fill="#fff"/>
<rect x="171" y="284" width="5" height="3" fill="#fff"/>
<rect x="155" y="290" width="5" height="3" fill="#fff"/>
<rect x="171" y="290" width="5" height="3" fill="#fff"/>
<rect x="155" y="296" width="5" height="3" fill="#fff"/>
<rect x="171" y="296" width="5" height="3" fill="#fff"/>
<rect x="155" y="302" width="5" height="3" fill="#fff"/>
<rect x="171" y="302" width="5" height="3" fill="#fff"/>
<rect x="155" y="308" width="5" height="3" fill="#fff"/>
<rect x="171" y="308" width="5" height="3" fill="#fff"/>
<rect x="155" y="314" width="5" height="3" fill="#fff"/>
<rect x="171" y="314" width="5" height="3" fill="#fff"/>
<rect x="155" y="320" width="5" height="3" fill="#fff"/>
<rect x="171" y="320" width="5" height="3" fill="#fff"/>
<rect x="155" y="326" width="5" height="3" fill="#fff"/>
<rect x="171" y="326" width="5" height="3" fill="#fff"/>
<rect x="155" y="331" width="5" height="3" fill="#fff"/>
<rect x="171" y="331" width="5" height="3" fill="#fff"/>
<rect x="155" y="337" width="5" height="3" fill="#fff"/>
<rect x="171" y="337" width="5" height="3" fill="#fff"/>
<rect x="155" y="343" width="5" height="3" fill="#fff"/>
<rect x="171" y="343" width="5" height="3" fill="#fff"/>
<rect x="163" y="268.9" width="5" height="34.73" fill="#fff"/>
<rect x="163" y="309.62" width="5" height="33.73" fill="#fff"/>
<polygon points="163,263 168,263 166.4,265.6 164.6,265.6" fill="#fff" shape-rendering="auto"/>
<rect x="51" y="9" width="105.5" height="7" fill="#000"/>
<rect x="57" y="10" width="1" height="5" fill="#fff"/>
<rect x="63" y="10" width="1" height="5" fill="#fff"/>
<rect x="69" y="10" width="1" height="5" fill="#fff"/>
<rect x="75" y="10" width="2" height="5" fill="#fff"/>
<rect x="80" y="10" width="1" height="5" fill="#fff"/>
<rect x="86" y="10" width="1" height="5" fill="#fff"/>
<rect x="92" y="10" width="1" height="5" fill="#fff"/>
<rect x="98" y="10" width="2" height="5" fill="#fff"/>
<rect x="103" y="10" width="1" height="5" fill="#fff"/>
<rect x="109" y="10" width="1" height="5" fill="#fff"/>
<rect x="115" y="10" width="1" height="5" fill="#fff"/>
<rect x="121" y="10" width="2" height="5" fill="#fff"/>
<rect x="126" y="10" width="1" height="5" fill="#fff"/>
<rect x="132" y="10" width="1" height="5" fill="#fff"/>
<rect x="138" y="10" width="1" height="5" fill="#fff"/>
<rect x="144" y="10" width="2" height="5" fill="#fff"/>
<rect x="150" y="10" width="1" height="5" fill="#fff"/>
<rect x="152" y="10.5" width="3.5" height="4" fill="#fff"/>
<rect x="150.5" y="9" width="1" height="7" fill="#000"/>
<rect x="258" y="386" width="119" height="12" fill="#000"/>
<rect x="264" y="387" width="1" height="10" fill="#fff"/>
<rect x="270" y="387" width="2" height="10" fill="#fff"/>
<rect x="276" y="387" width="1" height="10" fill="#fff"/>
<rect x="282" y="387" width="1" height="10" fill="#fff"/>
<rect x="288" y="387" width="2" height="10" fill="#fff"/>
<rect x="293" y="387" width="1" height="10" fill="#fff"/>
<rect x="299" y="387" width="1" height="10" fill="#fff"/>
<rect x="305" y="387" width="2" height="10" fill="#fff"/>
<rect x="311" y="387" width="1" height="10" fill="#fff"/>
<rect x="317" y="387" width="1" height="10" fill="#fff"/>
<rect x="323" y="387" width="1" height="10" fill="#fff"/>
<rect x="329" y="387" width="1" height="10" fill="#fff"/>
<rect x="334" y="387" width="2" height="10" fill="#fff"/>
<rect x="340" y="387" width="1" height="10" fill="#fff"/>
<rect x="346" y="387" width="1" height="10" fill="#fff"/>
<rect x="352" y="387" width="2" height="10" fill="#fff"/>
<rect x="358" y="387" width="1" height="10" fill="#fff"/>
<rect x="364" y="387" width="1" height="10" fill="#fff"/>
<rect x="369" y="387" width="1" height="10" fill="#fff"/>
<rect x="259" y="392" width="117" height="1" fill="#fff"/>
<rect x="259" y="387" width="1" height="10" fill="#fff"/>
<rect x="371" y="388" width="3" height="3" fill="#fff"/>
<rect x="257" y="406" width="117.5" height="13" fill="#000"/>
<rect x="263" y="408" width="1" height="10" fill="#fff"/>
<rect x="269" y="408" width="1" height="10" fill="#fff"/>
<rect x="275" y="408" width="1" height="10" fill="#fff"/>
<rect x="280" y="408" width="1" height="10" fill="#fff"/>
<rect x="286" y="408" width="1" height="10" fill="#fff"/>
<rect x="292" y="408" width="1" height="10" fill="#fff"/>
<rect x="298" y="408" width="1" height="10" fill="#fff"/>
<rect x="304" y="408" width="1" height="10" fill="#fff"/>
<rect x="310" y="408" width="1" height="10" fill="#fff"/>
<rect x="316" y="408" width="1" height="10" fill="#fff"/>
<rect x="322" y="408" width="1" height="10" fill="#fff"/>
<rect x="327" y="408" width="1" height="10" fill="#fff"/>
<rect x="333" y="408" width="1" height="10" fill="#fff"/>
<rect x="339" y="408" width="1" height="10" fill="#fff"/>
<rect x="345" y="408" width="1" height="10" fill="#fff"/>
<rect x="351" y="408" width="1" height="10" fill="#fff"/>
<rect x="357" y="408" width="1" height="10" fill="#fff"/>
<rect x="363" y="408" width="1" height="10" fill="#fff"/>
<rect x="368" y="408" width="1" height="10" fill="#fff"/>
<rect x="258" y="412" width="115.5" height="1" fill="#fff"/>
<rect x="258" y="407" width="1" height="11" fill="#fff"/>
<rect x="258" y="407" width="115.5" height="1" fill="#fff"/>
<rect x="369.5" y="409" width="3.5" height="2" fill="#fff"/>
<rect x="374.5" y="407" width="100" height="11.5" fill="#000"/>
<rect x="376" y="408" width="1" height="9.5" fill="#fff"/>
<rect x="382" y="408" width="1" height="9.5" fill="#fff"/>
<rect x="387" y="408" width="1" height="9.5" fill="#fff"/>
<rect x="393" y="408" width="1" height="9.5" fill="#fff"/>
<rect x="399" y="408" width="1" height="9.5" fill="#fff"/>
<rect x="405" y="408" width="1" height="9.5" fill="#fff"/>
<rect x="411" y="408" width="1" height="9.5" fill="#fff"/>
<rect x="417" y="408" width="1" height="9.5" fill="#fff"/>
<rect x="423" y="408" width="1" height="9.5" fill="#fff"/>
<rect x="429" y="408" width="1" height="9.5" fill="#fff"/>
<rect x="435" y="408" width="1" height="9.5" fill="#fff"/>
<rect x="440" y="408" width="1" height="9.5" fill="#fff"/>
<rect x="446" y="408" width="1" height="9.5" fill="#fff"/>
<rect x="452" y="408" width="1" height="9.5" fill="#fff"/>
<rect x="458" y="408" width="1" height="9.5" fill="#fff"/>
<rect x="464" y="408" width="1" height="9.5" fill="#fff"/>
<rect x="470" y="408" width="1" height="9.5" fill="#fff"/>
<rect x="375.5" y="412" width="98" height="1" fill="#fff"/>
<rect x="374.5" y="406" width="1" height="13" fill="#000"/>
<rect x="444" y="386" width="77.5" height="13" fill="#000"/>
<rect x="451" y="387" width="1" height="10" fill="#fff"/>
<rect x="457" y="387" width="1" height="10" fill="#fff"/>
<rect x="462" y="387" width="1" height="10" fill="#fff"/>
<rect x="468" y="387" width="1" height="10" fill="#fff"/>
<rect x="474" y="387" width="1" height="10" fill="#fff"/>
<rect x="480" y="387" width="1" height="10" fill="#fff"/>
<rect x="486" y="387" width="1" height="10" fill="#fff"/>
<rect x="492" y="387" width="1" height="10" fill="#fff"/>
<rect x="498" y="387" width="1" height="10" fill="#fff"/>
<rect x="503" y="387" width="1" height="10" fill="#fff"/>
<rect x="509" y="387" width="1" height="10" fill="#fff"/>
<rect x="515" y="387" width="1" height="10" fill="#fff"/>
<rect x="445" y="391" width="75.5" height="2" fill="#fff"/>
<rect x="445" y="387" width="1" height="11" fill="#fff"/>
<rect x="445" y="397" width="75.5" height="1" fill="#fff"/>
<rect x="517" y="388" width="3" height="2" fill="#fff"/>
<rect x="521.5" y="386" width="30.5" height="13" fill="#000"/>
<rect x="528" y="387" width="1" height="10" fill="#fff"/>
<rect x="533" y="387" width="1" height="10" fill="#fff"/>
<rect x="539" y="387" width="1" height="10" fill="#fff"/>
<rect x="545" y="387" width="1" height="10" fill="#fff"/>
<rect x="522.5" y="391" width="28.5" height="2" fill="#fff"/>
<rect x="522.5" y="387" width="1" height="11" fill="#fff"/>
<rect x="522.5" y="397" width="28.5" height="1" fill="#fff"/>
<rect x="547" y="388" width="3" height="2" fill="#fff"/>
<rect x="522" y="387" width="1" height="11" fill="#fff"/>
<rect x="474.5" y="406" width="47" height="13.5" fill="#000"/>
<rect x="480" y="408" width="1" height="10.5" fill="#fff"/>
<rect x="486" y="408" width="1" height="10.5" fill="#fff"/>
<rect x="492" y="408" width="1" height="10.5" fill="#fff"/>
<rect x="498" y="408" width="1" height="10.5" fill="#fff"/>
<rect x="503" y="408" width="1" height="10.5" fill="#fff"/>
<rect x="509" y="408" width="1" height="10.5" fill="#fff"/>
<rect x="515" y="408" width="1" height="10.5" fill="#fff"/>
<rect x="475.5" y="412" width="45" height="2" fill="#fff"/>
<rect x="475.5" y="407" width="1" height="11.5" fill="#fff"/>
<rect x="475.5" y="407" width="45" height="1" fill="#fff"/>
<rect x="517" y="409" width="3" height="2" fill="#fff"/>
<rect x="521.5" y="406" width="30.5" height="13.5" fill="#000"/>
<rect x="528" y="408" width="1" height="10.5" fill="#fff"/>
<rect x="533" y="408" width="1" height="10.5" fill="#fff"/>
<rect x="539" y="408" width="1" height="10.5" fill="#fff"/>
<rect x="545" y="408" width="1" height="10.5" fill="#fff"/>
<rect x="522.5" y="412" width="28.5" height="2" fill="#fff"/>
<rect x="522.5" y="407" width="1" height="11.5" fill="#fff"/>
<rect x="522.5" y="407" width="28.5" height="1" fill="#fff"/>
<rect x="547" y="409" width="3" height="2" fill="#fff"/>
<rect x="522" y="407" width="1" height="11.5" fill="#fff"/>
<rect x="275" y="432" width="277.5" height="16" fill="#000"/>
<rect x="276" y="433" width="275.5" height="14" fill="#fff"/>
<rect x="283" y="432" width="1" height="16" fill="#000"/>
<rect x="275" y="439.5" width="8" height="1" fill="#000"/>
<rect x="284.8" y="434" width="1.4" height="13" fill="#000"/>
<rect x="287.5" y="434" width="10" height="12" fill="#000"/>
<rect x="288.5" y="435" width="8" height="10" fill="#fff"/>
<polygon points="288.5,445 288.5,442 291,442 291,439 296.5,439 296.5,440 292.5,440 292.5,443 290,443 290,445" fill="#000"/>
<rect x="299" y="434" width="230.5" height="11" fill="#000"/>
<rect x="301" y="435" width="2" height="5" fill="#fff"/>
<rect x="304" y="435" width="1" height="5" fill="#fff"/>
<rect x="307" y="435" width="1" height="5" fill="#fff"/>
<rect x="310" y="435" width="1" height="5" fill="#fff"/>
<rect x="313" y="435" width="1" height="5" fill="#fff"/>
<rect x="316" y="435" width="1" height="5" fill="#fff"/>
<rect x="319" y="435" width="1" height="5" fill="#fff"/>
<rect x="322" y="435" width="2" height="5" fill="#fff"/>
<rect x="325" y="435" width="1" height="5" fill="#fff"/>
<rect x="328" y="435" width="1" height="5" fill="#fff"/>
<rect x="330" y="435" width="1" height="5" fill="#fff"/>
<rect x="333" y="435" width="1" height="5" fill="#fff"/>
<rect x="336" y="435" width="1" height="5" fill="#fff"/>
<rect x="339" y="435" width="1" height="5" fill="#fff"/>
<rect x="342" y="435" width="2" height="5" fill="#fff"/>
<rect x="345" y="435" width="1" height="5" fill="#fff"/>
<rect x="348" y="435" width="1" height="5" fill="#fff"/>
<rect x="351" y="435" width="1" height="5" fill="#fff"/>
<rect x="354" y="435" width="1" height="5" fill="#fff"/>
<rect x="357" y="435" width="1" height="5" fill="#fff"/>
<rect x="360" y="435" width="1" height="5" fill="#fff"/>
<rect x="363" y="435" width="2" height="5" fill="#fff"/>
<rect x="366" y="435" width="1" height="5" fill="#fff"/>
<rect x="369" y="435" width="1" height="5" fill="#fff"/>
<rect x="372" y="435" width="1" height="5" fill="#fff"/>
<rect x="375" y="435" width="1" height="5" fill="#fff"/>
<rect x="378" y="435" width="1" height="5" fill="#fff"/>
<rect x="381" y="435" width="1" height="5" fill="#fff"/>
<rect x="384" y="435" width="2" height="5" fill="#fff"/>
<rect x="387" y="435" width="1" height="5" fill="#fff"/>
<rect x="389" y="435" width="1" height="5" fill="#fff"/>
<rect x="392" y="435" width="1" height="5" fill="#fff"/>
<rect x="395" y="435" width="1" height="5" fill="#fff"/>
<rect x="398" y="435" width="1" height="5" fill="#fff"/>
<rect x="401" y="435" width="1" height="5" fill="#fff"/>
<rect x="404" y="435" width="2" height="5" fill="#fff"/>
<rect x="422" y="435" width="1" height="5" fill="#fff"/>
<rect x="425" y="435" width="2" height="5" fill="#fff"/>
<rect x="428" y="435" width="1" height="5" fill="#fff"/>
<rect x="431" y="435" width="1" height="5" fill="#fff"/>
<rect x="434" y="435" width="1" height="5" fill="#fff"/>
<rect x="437" y="435" width="1" height="5" fill="#fff"/>
<rect x="440" y="435" width="1" height="5" fill="#fff"/>
<rect x="443" y="435" width="1" height="5" fill="#fff"/>
<rect x="446" y="435" width="2" height="5" fill="#fff"/>
<rect x="448" y="435" width="1" height="5" fill="#fff"/>
<rect x="451" y="435" width="1" height="5" fill="#fff"/>
<rect x="454" y="435" width="1" height="5" fill="#fff"/>
<rect x="457" y="435" width="1" height="5" fill="#fff"/>
<rect x="460" y="435" width="1" height="5" fill="#fff"/>
<rect x="463" y="435" width="1" height="5" fill="#fff"/>
<rect x="466" y="435" width="2" height="5" fill="#fff"/>
<rect x="469" y="435" width="1" height="5" fill="#fff"/>
<rect x="472" y="435" width="1" height="5" fill="#fff"/>
<rect x="475" y="435" width="1" height="5" fill="#fff"/>
<rect x="478" y="435" width="1" height="5" fill="#fff"/>
<rect x="481" y="435" width="1" height="5" fill="#fff"/>
<rect x="484" y="435" width="1" height="5" fill="#fff"/>
<rect x="487" y="435" width="2" height="5" fill="#fff"/>
<rect x="490" y="435" width="1" height="5" fill="#fff"/>
<rect x="493" y="435" width="1" height="5" fill="#fff"/>
<rect x="496" y="435" width="1" height="5" fill="#fff"/>
<rect x="499" y="435" width="1" height="5" fill="#fff"/>
<rect x="502" y="435" width="1" height="5" fill="#fff"/>
<rect x="505" y="435" width="1" height="5" fill="#fff"/>
<rect x="507" y="435" width="2" height="5" fill="#fff"/>
<rect x="510" y="435" width="1" height="5" fill="#fff"/>
<rect x="513" y="435" width="1" height="5" fill="#fff"/>
<rect x="516" y="435" width="1" height="5" fill="#fff"/>
<rect x="519" y="435" width="1" height="5" fill="#fff"/>
<rect x="522" y="435" width="1" height="5" fill="#fff"/>
<rect x="525" y="435" width="1" height="5" fill="#fff"/>
<rect x="410" y="433" width="8" height="5" fill="#fff"/>
<rect x="299" y="446.5" width="230.5" height="1.1" fill="#000"/>
<rect x="532.5" y="434" width="9.5" height="12" fill="#000"/>
<rect x="533.5" y="435" width="7.5" height="10" fill="#fff"/>
<polygon points="541,436 541,442 538,442 538,444 533.5,444 533.5,442.8 536.5,442.8 536.5,440.5 539.5,440.5 539.5,436" fill="#000"/>
<rect x="543" y="433" width="1.6" height="13" fill="#000"/>
<rect x="546" y="432" width="1" height="16" fill="#000"/>
<rect x="546" y="439.5" width="6" height="1" fill="#000"/>
<rect x="275" y="449" width="277.5" height="15.5" fill="#000"/>
<rect x="276" y="450" width="275.5" height="13.5" fill="#fff"/>
<rect x="283" y="449" width="1" height="15.5" fill="#000"/>
<rect x="275" y="456.25" width="8" height="1" fill="#000"/>
<rect x="284.8" y="451" width="1.4" height="12.5" fill="#000"/>
<rect x="287.5" y="451" width="10" height="11.5" fill="#000"/>
<rect x="288.5" y="452" width="8" height="9.5" fill="#fff"/>
<polygon points="288.5,461.5 288.5,458.5 291,458.5 291,455.5 296.5,455.5 296.5,456.5 292.5,456.5 292.5,459.5 290,459.5 290,461.5" fill="#000"/>
<rect x="299" y="451" width="230.5" height="11" fill="#000"/>
<rect x="301" y="452" width="2" height="5" fill="#fff"/>
<rect x="304" y="452" width="1" height="5" fill="#fff"/>
<rect x="307" y="452" width="1" height="5" fill="#fff"/>
<rect x="310" y="452" width="1" height="5" fill="#fff"/>
<rect x="313" y="452" width="1" height="5" fill="#fff"/>
<rect x="316" y="452" width="1" height="5" fill="#fff"/>
<rect x="319" y="452" width="1" height="5" fill="#fff"/>
<rect x="322" y="452" width="2" height="5" fill="#fff"/>
<rect x="325" y="452" width="1" height="5" fill="#fff"/>
<rect x="328" y="452" width="1" height="5" fill="#fff"/>
<rect x="330" y="452" width="1" height="5" fill="#fff"/>
<rect x="333" y="452" width="1" height="5" fill="#fff"/>
<rect x="336" y="452" width="1" height="5" fill="#fff"/>
<rect x="339" y="452" width="1" height="5" fill="#fff"/>
<rect x="342" y="452" width="2" height="5" fill="#fff"/>
<rect x="345" y="452" width="1" height="5" fill="#fff"/>
<rect x="348" y="452" width="1" height="5" fill="#fff"/>
<rect x="351" y="452" width="1" height="5" fill="#fff"/>
<rect x="354" y="452" width="1" height="5" fill="#fff"/>
<rect x="357" y="452" width="1" height="5" fill="#fff"/>
<rect x="360" y="452" width="1" height="5" fill="#fff"/>
<rect x="363" y="452" width="2" height="5" fill="#fff"/>
<rect x="366" y="452" width="1" height="5" fill="#fff"/>
<rect x="369" y="452" width="1" height="5" fill="#fff"/>
<rect x="372" y="452" width="1" height="5" fill="#fff"/>
<rect x="375" y="452" width="1" height="5" fill="#fff"/>
<rect x="378" y="452" width="1" height="5" fill="#fff"/>
<rect x="381" y="452" width="1" height="5" fill="#fff"/>
<rect x="384" y="452" width="2" height="5" fill="#fff"/>
<rect x="387" y="452" width="1" height="5" fill="#fff"/>
<rect x="389" y="452" width="1" height="5" fill="#fff"/>
<rect x="392" y="452" width="1" height="5" fill="#fff"/>
<rect x="395" y="452" width="1" height="5" fill="#fff"/>
<rect x="398" y="452" width="1" height="5" fill="#fff"/>
<rect x="401" y="452" width="1" height="5" fill="#fff"/>
<rect x="404" y="452" width="2" height="5" fill="#fff"/>
<rect x="422" y="452" width="1" height="5" fill="#fff"/>
<rect x="425" y="452" width="2" height="5" fill="#fff"/>
<rect x="428" y="452" width="1" height="5" fill="#fff"/>
<rect x="431" y="452" width="1" height="5" fill="#fff"/>
<rect x="434" y="452" width="1" height="5" fill="#fff"/>
<rect x="437" y="452" width="1" height="5" fill="#fff"/>
<rect x="440" y="452" width="1" height="5" fill="#fff"/>
<rect x="443" y="452" width="1" height="5" fill="#fff"/>
<rect x="446" y="452" width="2" height="5" fill="#fff"/>
<rect x="448" y="452" width="1" height="5" fill="#fff"/>
<rect x="451" y="452" width="1" height="5" fill="#fff"/>
<rect x="454" y="452" width="1" height="5" fill="#fff"/>
<rect x="457" y="452" width="1" height="5" fill="#fff"/>
<rect x="460" y="452" width="1" height="5" fill="#fff"/>
<rect x="463" y="452" width="1" height="5" fill="#fff"/>
<rect x="466" y="452" width="2" height="5" fill="#fff"/>
<rect x="469" y="452" width="1" height="5" fill="#fff"/>
<rect x="472" y="452" width="1" height="5" fill="#fff"/>
<rect x="475" y="452" width="1" height="5" fill="#fff"/>
<rect x="478" y="452" width="1" height="5" fill="#fff"/>
<rect x="481" y="452" width="1" height="5" fill="#fff"/>
<rect x="484" y="452" width="1" height="5" fill="#fff"/>
<rect x="487" y="452" width="2" height="5" fill="#fff"/>
<rect x="490" y="452" width="1" height="5" fill="#fff"/>
<rect x="493" y="452" width="1" height="5" fill="#fff"/>
<rect x="496" y="452" width="1" height="5" fill="#fff"/>
<rect x="499" y="452" width="1" height="5" fill="#fff"/>
<rect x="502" y="452" width="1" height="5" fill="#fff"/>
<rect x="505" y="452" width="1" height="5" fill="#fff"/>
<rect x="507" y="452" width="2" height="5" fill="#fff"/>
<rect x="510" y="452" width="1" height="5" fill="#fff"/>
<rect x="513" y="452" width="1" height="5" fill="#fff"/>
<rect x="516" y="452" width="1" height="5" fill="#fff"/>
<rect x="519" y="452" width="1" height="5" fill="#fff"/>
<rect x="522" y="452" width="1" height="5" fill="#fff"/>
<rect x="525" y="452" width="1" height="5" fill="#fff"/>
<rect x="410" y="457" width="8" height="6" fill="#fff"/>
<rect x="299" y="463.5" width="230.5" height="1.1" fill="#000"/>
<rect x="532.5" y="451" width="9.5" height="11.5" fill="#000"/>
<rect x="533.5" y="452" width="7.5" height="9.5" fill="#fff"/>
<polygon points="541,453 541,458.5 538,458.5 538,460.5 533.5,460.5 533.5,459.3 536.5,459.3 536.5,457 539.5,457 539.5,453" fill="#000"/>
<rect x="543" y="450" width="1.6" height="12.5" fill="#000"/>
<rect x="546" y="449" width="1" height="15.5" fill="#000"/>
<rect x="546" y="456.25" width="6" height="1" fill="#000"/>
<rect x="275" y="466" width="277.5" height="15" fill="#000"/>
<rect x="276" y="467" width="275.5" height="13" fill="#fff"/>
<rect x="283" y="466" width="1" height="15" fill="#000"/>
<rect x="275" y="473" width="8" height="1" fill="#000"/>
<rect x="284.8" y="468" width="1.4" height="12" fill="#000"/>
<rect x="287.5" y="468" width="10" height="11" fill="#000"/>
<rect x="288.5" y="469" width="8" height="9" fill="#fff"/>
<polygon points="288.5,478 288.5,475 291,475 291,472 296.5,472 296.5,473 292.5,473 292.5,476 290,476 290,478" fill="#000"/>
<rect x="299" y="468" width="230.5" height="11" fill="#000"/>
<rect x="301" y="469" width="2" height="5" fill="#fff"/>
<rect x="304" y="469" width="1" height="5" fill="#fff"/>
<rect x="307" y="469" width="1" height="5" fill="#fff"/>
<rect x="310" y="469" width="1" height="5" fill="#fff"/>
<rect x="313" y="469" width="1" height="5" fill="#fff"/>
<rect x="316" y="469" width="1" height="5" fill="#fff"/>
<rect x="319" y="469" width="1" height="5" fill="#fff"/>
<rect x="322" y="469" width="2" height="5" fill="#fff"/>
<rect x="325" y="469" width="1" height="5" fill="#fff"/>
<rect x="328" y="469" width="1" height="5" fill="#fff"/>
<rect x="330" y="469" width="1" height="5" fill="#fff"/>
<rect x="333" y="469" width="1" height="5" fill="#fff"/>
<rect x="336" y="469" width="1" height="5" fill="#fff"/>
<rect x="339" y="469" width="1" height="5" fill="#fff"/>
<rect x="342" y="469" width="2" height="5" fill="#fff"/>
<rect x="345" y="469" width="1" height="5" fill="#fff"/>
<rect x="348" y="469" width="1" height="5" fill="#fff"/>
<rect x="351" y="469" width="1" height="5" fill="#fff"/>
<rect x="354" y="469" width="1" height="5" fill="#fff"/>
<rect x="357" y="469" width="1" height="5" fill="#fff"/>
<rect x="360" y="469" width="1" height="5" fill="#fff"/>
<rect x="363" y="469" width="2" height="5" fill="#fff"/>
<rect x="366" y="469" width="1" height="5" fill="#fff"/>
<rect x="369" y="469" width="1" height="5" fill="#fff"/>
<rect x="372" y="469" width="1" height="5" fill="#fff"/>
<rect x="375" y="469" width="1" height="5" fill="#fff"/>
<rect x="378" y="469" width="1" height="5" fill="#fff"/>
<rect x="381" y="469" width="1" height="5" fill="#fff"/>
<rect x="384" y="469" width="2" height="5" fill="#fff"/>
<rect x="387" y="469" width="1" height="5" fill="#fff"/>
<rect x="389" y="469" width="1" height="5" fill="#fff"/>
<rect x="392" y="469" width="1" height="5" fill="#fff"/>
<rect x="395" y="469" width="1" height="5" fill="#fff"/>
<rect x="398" y="469" width="1" height="5" fill="#fff"/>
<rect x="401" y="469" width="1" height="5" fill="#fff"/>
<rect x="404" y="469" width="2" height="5" fill="#fff"/>
<rect x="422" y="469" width="1" height="5" fill="#fff"/>
<rect x="425" y="469" width="2" height="5" fill="#fff"/>
<rect x="428" y="469" width="1" height="5" fill="#fff"/>
<rect x="431" y="469" width="1" height="5" fill="#fff"/>
<rect x="434" y="469" width="1" height="5" fill="#fff"/>
<rect x="437" y="469" width="1" height="5" fill="#fff"/>
<rect x="440" y="469" width="1" height="5" fill="#fff"/>
<rect x="443" y="469" width="1" height="5" fill="#fff"/>
<rect x="446" y="469" width="2" height="5" fill="#fff"/>
<rect x="448" y="469" width="1" height="5" fill="#fff"/>
<rect x="451" y="469" width="1" height="5" fill="#fff"/>
<rect x="454" y="469" width="1" height="5" fill="#fff"/>
<rect x="457" y="469" width="1" height="5" fill="#fff"/>
<rect x="460" y="469" width="1" height="5" fill="#fff"/>
<rect x="463" y="469" width="1" height="5" fill="#fff"/>
<rect x="466" y="469" width="2" height="5" fill="#fff"/>
<rect x="469" y="469" width="1" height="5" fill="#fff"/>
<rect x="472" y="469" width="1" height="5" fill="#fff"/>
<rect x="475" y="469" width="1" height="5" fill="#fff"/>
<rect x="478" y="469" width="1" height="5" fill="#fff"/>
<rect x="481" y="469" width="1" height="5" fill="#fff"/>
<rect x="484" y="469" width="1" height="5" fill="#fff"/>
<rect x="487" y="469" width="2" height="5" fill="#fff"/>
<rect x="490" y="469" width="1" height="5" fill="#fff"/>
<rect x="493" y="469" width="1" height="5" fill="#fff"/>
<rect x="496" y="469" width="1" height="5" fill="#fff"/>
<rect x="499" y="469" width="1" height="5" fill="#fff"/>
<rect x="502" y="469" width="1" height="5" fill="#fff"/>
<rect x="505" y="469" width="1" height="5" fill="#fff"/>
<rect x="507" y="469" width="2" height="5" fill="#fff"/>
<rect x="510" y="469" width="1" height="5" fill="#fff"/>
<rect x="513" y="469" width="1" height="5" fill="#fff"/>
<rect x="516" y="469" width="1" height="5" fill="#fff"/>
<rect x="519" y="469" width="1" height="5" fill="#fff"/>
<rect x="522" y="469" width="1" height="5" fill="#fff"/>
<rect x="525" y="469" width="1" height="5" fill="#fff"/>
<rect x="410" y="467" width="8" height="5" fill="#fff"/>
<rect x="532.5" y="468" width="9.5" height="11" fill="#000"/>
<rect x="533.5" y="469" width="7.5" height="9" fill="#fff"/>
<polygon points="541,470 541,475 538,475 538,477 533.5,477 533.5,475.8 536.5,475.8 536.5,473.5 539.5,473.5 539.5,470" fill="#000"/>
<rect x="543" y="467" width="1.6" height="12" fill="#000"/>
<rect x="546" y="466" width="1" height="15" fill="#000"/>
<rect x="546" y="473" width="6" height="1" fill="#000"/>
<rect x="275" y="482" width="277.5" height="15" fill="#000"/>
<rect x="276" y="483" width="275.5" height="13" fill="#fff"/>
<rect x="283" y="482" width="1" height="15" fill="#000"/>
<rect x="275" y="489" width="8" height="1" fill="#000"/>
<rect x="284.8" y="484" width="1.4" height="12" fill="#000"/>
<rect x="287.5" y="484" width="10" height="11" fill="#000"/>
<rect x="288.5" y="485" width="8" height="9" fill="#fff"/>
<polygon points="288.5,494 288.5,491 291,491 291,488 296.5,488 296.5,489 292.5,489 292.5,492 290,492 290,494" fill="#000"/>
<rect x="299" y="484" width="230.5" height="11" fill="#000"/>
<rect x="301" y="485" width="2" height="5" fill="#fff"/>
<rect x="304" y="485" width="1" height="5" fill="#fff"/>
<rect x="307" y="485" width="1" height="5" fill="#fff"/>
<rect x="310" y="485" width="1" height="5" fill="#fff"/>
<rect x="313" y="485" width="1" height="5" fill="#fff"/>
<rect x="316" y="485" width="1" height="5" fill="#fff"/>
<rect x="319" y="485" width="1" height="5" fill="#fff"/>
<rect x="322" y="485" width="2" height="5" fill="#fff"/>
<rect x="325" y="485" width="1" height="5" fill="#fff"/>
<rect x="328" y="485" width="1" height="5" fill="#fff"/>
<rect x="330" y="485" width="1" height="5" fill="#fff"/>
<rect x="333" y="485" width="1" height="5" fill="#fff"/>
<rect x="336" y="485" width="1" height="5" fill="#fff"/>
<rect x="339" y="485" width="1" height="5" fill="#fff"/>
<rect x="342" y="485" width="2" height="5" fill="#fff"/>
<rect x="345" y="485" width="1" height="5" fill="#fff"/>
<rect x="348" y="485" width="1" height="5" fill="#fff"/>
<rect x="351" y="485" width="1" height="5" fill="#fff"/>
<rect x="354" y="485" width="1" height="5" fill="#fff"/>
<rect x="357" y="485" width="1" height="5" fill="#fff"/>
<rect x="360" y="485" width="1" height="5" fill="#fff"/>
<rect x="363" y="485" width="2" height="5" fill="#fff"/>
<rect x="366" y="485" width="1" height="5" fill="#fff"/>
<rect x="369" y="485" width="1" height="5" fill="#fff"/>
<rect x="372" y="485" width="1" height="5" fill="#fff"/>
<rect x="375" y="485" width="1" height="5" fill="#fff"/>
<rect x="378" y="485" width="1" height="5" fill="#fff"/>
<rect x="381" y="485" width="1" height="5" fill="#fff"/>
<rect x="384" y="485" width="2" height="5" fill="#fff"/>
<rect x="387" y="485" width="1" height="5" fill="#fff"/>
<rect x="389" y="485" width="1" height="5" fill="#fff"/>
<rect x="392" y="485" width="1" height="5" fill="#fff"/>
<rect x="395" y="485" width="1" height="5" fill="#fff"/>
<rect x="398" y="485" width="1" height="5" fill="#fff"/>
<rect x="401" y="485" width="1" height="5" fill="#fff"/>
<rect x="404" y="485" width="2" height="5" fill="#fff"/>
<rect x="422" y="485" width="1" height="5" fill="#fff"/>
<rect x="425" y="485" width="2" height="5" fill="#fff"/>
<rect x="428" y="485" width="1" height="5" fill="#fff"/>
<rect x="431" y="485" width="1" height="5" fill="#fff"/>
<rect x="434" y="485" width="1" height="5" fill="#fff"/>
<rect x="437" y="485" width="1" height="5" fill="#fff"/>
<rect x="440" y="485" width="1" height="5" fill="#fff"/>
<rect x="443" y="485" width="1" height="5" fill="#fff"/>
<rect x="446" y="485" width="2" height="5" fill="#fff"/>
<rect x="448" y="485" width="1" height="5" fill="#fff"/>
<rect x="451" y="485" width="1" height="5" fill="#fff"/>
<rect x="454" y="485" width="1" height="5" fill="#fff"/>
<rect x="457" y="485" width="1" height="5" fill="#fff"/>
<rect x="460" y="485" width="1" height="5" fill="#fff"/>
<rect x="463" y="485" width="1" height="5" fill="#fff"/>
<rect x="466" y="485" width="2" height="5" fill="#fff"/>
<rect x="469" y="485" width="1" height="5" fill="#fff"/>
<rect x="472" y="485" width="1" height="5" fill="#fff"/>
<rect x="475" y="485" width="1" height="5" fill="#fff"/>
<rect x="478" y="485" width="1" height="5" fill="#fff"/>
<rect x="481" y="485" width="1" height="5" fill="#fff"/>
<rect x="484" y="485" width="1" height="5" fill="#fff"/>
<rect x="487" y="485" width="2" height="5" fill="#fff"/>
<rect x="490" y="485" width="1" height="5" fill="#fff"/>
<rect x="493" y="485" width="1" height="5" fill="#fff"/>
<rect x="496" y="485" width="1" height="5" fill="#fff"/>
<rect x="499" y="485" width="1" height="5" fill="#fff"/>
<rect x="502" y="485" width="1" height="5" fill="#fff"/>
<rect x="505" y="485" width="1" height="5" fill="#fff"/>
<rect x="507" y="485" width="2" height="5" fill="#fff"/>
<rect x="510" y="485" width="1" height="5" fill="#fff"/>
<rect x="513" y="485" width="1" height="5" fill="#fff"/>
<rect x="516" y="485" width="1" height="5" fill="#fff"/>
<rect x="519" y="485" width="1" height="5" fill="#fff"/>
<rect x="522" y="485" width="1" height="5" fill="#fff"/>
<rect x="525" y="485" width="1" height="5" fill="#fff"/>
<rect x="410" y="490" width="8" height="6" fill="#fff"/>
<rect x="532.5" y="484" width="9.5" height="11" fill="#000"/>
<rect x="533.5" y="485" width="7.5" height="9" fill="#fff"/>
<polygon points="541,486 541,491 538,491 538,493 533.5,493 533.5,491.8 536.5,491.8 536.5,489.5 539.5,489.5 539.5,486" fill="#000"/>
<rect x="543" y="483" width="1.6" height="12" fill="#000"/>
<rect x="546" y="482" width="1" height="15" fill="#000"/>
<rect x="546" y="489" width="6" height="1" fill="#000"/>
<rect x="558" y="403.5" width="24" height="112.5" fill="#000"/>
<rect x="559" y="404.5" width="22" height="110.5" fill="#fff"/>
<rect x="561.5" y="404" width="1" height="3" fill="#000"/>
<rect x="566" y="404" width="1" height="3" fill="#000"/>
<rect x="562" y="406" width="4.5" height="1" fill="#000"/>
<rect x="561.5" y="512.5" width="1" height="3" fill="#000"/>
<rect x="566" y="512.5" width="1" height="3" fill="#000"/>
<rect x="562" y="512.5" width="4.5" height="1" fill="#000"/>
<rect x="561" y="410" width="8" height="7" fill="#000"/>
<rect x="562" y="411" width="6" height="5" fill="#fff"/>
<rect x="561" y="419" width="8" height="7" fill="#000"/>
<rect x="562" y="420" width="6" height="5" fill="#fff"/>
<rect x="561" y="429" width="8" height="7" fill="#000"/>
<rect x="562" y="430" width="6" height="5" fill="#fff"/>
<rect x="561" y="438" width="8" height="7" fill="#000"/>
<rect x="562" y="439" width="6" height="5" fill="#fff"/>
<rect x="561" y="447" width="8" height="7" fill="#000"/>
<rect x="562" y="448" width="6" height="5" fill="#fff"/>
<rect x="561" y="456" width="8" height="7" fill="#000"/>
<rect x="562" y="457" width="6" height="5" fill="#fff"/>
<rect x="561" y="466" width="8" height="7" fill="#000"/>
<rect x="562" y="467" width="6" height="5" fill="#fff"/>
<rect x="561" y="475" width="8" height="7" fill="#000"/>
<rect x="562" y="476" width="6" height="5" fill="#fff"/>
<rect x="561" y="484" width="8" height="7" fill="#000"/>
<rect x="562" y="485" width="6" height="5" fill="#fff"/>
<rect x="561" y="494" width="8" height="7" fill="#000"/>
<rect x="562" y="495" width="6" height="5" fill="#fff"/>
<rect x="561" y="503" width="8" height="7" fill="#000"/>
<rect x="562" y="504" width="6" height="5" fill="#fff"/>
<rect x="570" y="406" width="2" height="7" fill="#000"/>
<rect x="576" y="407" width="4" height="6" fill="#000"/>
<rect x="577" y="408" width="2" height="4" fill="#fff"/>
<rect x="570" y="415" width="2" height="7" fill="#000"/>
<rect x="576" y="416" width="4" height="6" fill="#000"/>
<rect x="577" y="417" width="2" height="4" fill="#fff"/>
<rect x="570" y="425" width="2" height="7" fill="#000"/>
<rect x="576" y="426" width="4" height="6" fill="#000"/>
<rect x="577" y="427" width="2" height="4" fill="#fff"/>
<rect x="570" y="434" width="2" height="7" fill="#000"/>
<rect x="576" y="435" width="4" height="6" fill="#000"/>
<rect x="577" y="436" width="2" height="4" fill="#fff"/>
<rect x="570" y="443" width="2" height="7" fill="#000"/>
<rect x="576" y="444" width="4" height="6" fill="#000"/>
<rect x="577" y="445" width="2" height="4" fill="#fff"/>
<rect x="570" y="452" width="2" height="7" fill="#000"/>
<rect x="576" y="453" width="4" height="6" fill="#000"/>
<rect x="577" y="454" width="2" height="4" fill="#fff"/>
<rect x="570" y="462" width="2" height="7" fill="#000"/>
<rect x="576" y="463" width="4" height="6" fill="#000"/>
<rect x="577" y="464" width="2" height="4" fill="#fff"/>
<rect x="570" y="471" width="2" height="7" fill="#000"/>
<rect x="576" y="472" width="4" height="6" fill="#000"/>
<rect x="577" y="473" width="2" height="4" fill="#fff"/>
<rect x="570" y="480" width="2" height="7" fill="#000"/>
<rect x="576" y="481" width="4" height="6" fill="#000"/>
<rect x="577" y="482" width="2" height="4" fill="#fff"/>
<rect x="570" y="490" width="2" height="7" fill="#000"/>
<rect x="576" y="491" width="4" height="6" fill="#000"/>
<rect x="577" y="492" width="2" height="4" fill="#fff"/>
<rect x="570" y="499" width="2" height="7" fill="#000"/>
<rect x="576" y="500" width="4" height="6" fill="#000"/>
<rect x="577" y="501" width="2" height="4" fill="#fff"/>
<rect x="570" y="508" width="2" height="7" fill="#000"/>
<rect x="576" y="509" width="4" height="6" fill="#000"/>
<rect x="577" y="510" width="2" height="4" fill="#fff"/>
<rect x="574" y="404" width="1" height="112" fill="#000"/>
<polygon points="594,447 618,447 618,443.5 621.5,443.5 621.5,440 624.5,440 624.5,491 621.5,491 621.5,488 618,488 618,483.5 594,483.5 594,477 591,477 591,454.5 594,454.5" fill="#000"/>
<rect x="587" y="456" width="5" height="9" fill="#000"/>
<rect x="588" y="457" width="3" height="7" fill="#fff"/>
<rect x="587" y="467" width="5" height="9.5" fill="#000"/>
<rect x="588" y="468" width="3" height="7.5" fill="#fff"/>
<rect x="59" y="20" width="13" height="20" fill="#000"/>
<rect x="60.5" y="21" width="10.5" height="1" fill="#fff"/>
<rect x="65.2" y="21" width="1" height="18" fill="#fff"/>
<rect x="60.5" y="27" width="10.5" height="1" fill="#fff"/>
<rect x="60.5" y="33.2" width="10.5" height="1" fill="#fff"/>
<rect x="60.5" y="38.4" width="10.5" height="0.6" fill="#fff"/>
<rect x="61" y="23" width="3" height="3" fill="#fff"/>
<rect x="80.5" y="30" width="13" height="6.5" fill="#000"/>
<rect x="82" y="31" width="10" height="1" fill="#fff"/>
<rect x="82" y="31" width="1" height="5" fill="#fff"/>
<rect x="86" y="31" width="2" height="5" fill="#fff"/>
<rect x="92" y="31" width="1" height="5" fill="#fff"/>
<rect x="86" y="51" width="7" height="19.5" fill="#000"/>
<rect x="87" y="52" width="5" height="17.5" fill="#fff"/>
<rect x="87.5" y="52.8" width="4" height="4.7" fill="#000"/>
<rect x="88.5" y="53.8" width="2" height="2.7" fill="#fff"/>
<rect x="87.5" y="58.3" width="4" height="4.7" fill="#000"/>
<rect x="87.5" y="63.8" width="4" height="4.7" fill="#000"/>
<rect x="94" y="52" width="7" height="12.5" fill="#000"/>
<rect x="95.3" y="53" width="1" height="10.5" fill="#fff"/>
<rect x="96.3" y="57.8" width="3.7" height="0.9" fill="#fff"/>
<rect x="103" y="52" width="7" height="12.5" fill="#000"/>
<rect x="104.5" y="57.8" width="4" height="0.9" fill="#fff"/>
<rect x="112" y="52" width="7" height="12.5" fill="#000"/>
<rect x="116.6" y="53" width="1" height="10.5" fill="#fff"/>
<rect x="113" y="57.8" width="3.6" height="0.9" fill="#fff"/>
<rect x="122" y="51.5" width="18.5" height="6" fill="#000"/>
<rect x="123" y="52" width="1" height="4" fill="#fff"/>
<rect x="128" y="52" width="2" height="4" fill="#fff"/>
<rect x="133" y="52" width="1" height="4" fill="#fff"/>
<rect x="139" y="52" width="1" height="4" fill="#fff"/>
<rect x="135" y="54" width="3" height="2" fill="#fff"/>
<rect x="122" y="59.2" width="18.5" height="6.3" fill="#000"/>
<rect x="123" y="60" width="1" height="4" fill="#fff"/>
<rect x="128" y="60" width="2" height="4" fill="#fff"/>
<rect x="133" y="60" width="1" height="4" fill="#fff"/>
<rect x="139" y="60" width="1" height="4" fill="#fff"/>
<rect x="135" y="61" width="3" height="3" fill="#fff"/>
<rect x="145" y="51.5" width="13.5" height="6" fill="#000"/>
<rect x="146" y="53" width="12" height="1" fill="#fff"/>
<rect x="146" y="53" width="1" height="3" fill="#fff"/>
<rect x="151" y="53" width="1" height="3" fill="#fff"/>
<rect x="156" y="53" width="2" height="3" fill="#fff"/>
<rect x="287" y="41" width="13.5" height="7" fill="#000"/>
<rect x="288" y="42" width="12" height="1" fill="#fff"/>
<rect x="288" y="42" width="1" height="5" fill="#fff"/>
<rect x="293" y="42" width="1" height="5" fill="#fff"/>
<rect x="298" y="42" width="2" height="5" fill="#fff"/>
<rect x="302" y="41" width="19" height="7" fill="#000"/>
<rect x="303" y="42" width="1" height="5" fill="#fff"/>
<rect x="308" y="42" width="2" height="5" fill="#fff"/>
<rect x="313" y="42" width="1" height="5" fill="#fff"/>
<rect x="319" y="42" width="1" height="5" fill="#fff"/>
<rect x="315" y="43" width="3" height="3" fill="#fff"/>
<rect x="330.5" y="179" width="19.5" height="7" fill="#000"/>
<rect x="332" y="180" width="1" height="5" fill="#fff"/>
<rect x="336" y="180" width="2" height="5" fill="#fff"/>
<rect x="342" y="180" width="1" height="5" fill="#fff"/>
<rect x="348" y="180" width="1" height="5" fill="#fff"/>
<rect x="344" y="181" width="3" height="3" fill="#fff"/>
<rect x="308" y="229" width="7" height="14" fill="#000"/>
<rect x="309" y="230" width="5" height="1" fill="#fff"/>
<rect x="309" y="235" width="5" height="2" fill="#fff"/>
<rect x="309" y="240" width="5" height="1" fill="#fff"/>
<rect x="308" y="245" width="7" height="14" fill="#000"/>
<rect x="309" y="246" width="5" height="1" fill="#fff"/>
<rect x="309" y="251" width="5" height="2" fill="#fff"/>
<rect x="309" y="256" width="5" height="1" fill="#fff"/>
<rect x="446" y="225" width="19" height="7" fill="#000"/>
<rect x="447" y="230" width="17" height="1" fill="#fff"/>
<rect x="451" y="226" width="1" height="5" fill="#fff"/>
<rect x="457" y="226" width="1" height="5" fill="#fff"/>
<rect x="463" y="226" width="1" height="5" fill="#fff"/>
<rect x="459" y="227" width="3" height="2" fill="#fff"/>
<rect x="226" y="292" width="7" height="18.5" fill="#000"/>
<rect x="227" y="293" width="5" height="1" fill="#fff"/>
<rect x="227.5" y="295" width="4" height="2" fill="#fff"/>
<rect x="227" y="298" width="5" height="2" fill="#fff"/>
<rect x="227" y="304" width="5" height="1" fill="#fff"/>
<rect x="606" y="197" width="7" height="19" fill="#000"/>
<rect x="607" y="198" width="5" height="1" fill="#fff"/>
<rect x="607.5" y="200" width="4" height="2" fill="#fff"/>
<rect x="607" y="203" width="5" height="2" fill="#fff"/>
<rect x="607" y="209" width="5" height="1" fill="#fff"/>
<rect x="563" y="196" width="7" height="13.5" fill="#000"/>
<rect x="564" y="197" width="5" height="11.5" fill="#fff"/>
<rect x="565" y="198" width="4" height="10" fill="#000"/>
<rect x="566.5" y="199.5" width="2.5" height="2.8" fill="#fff"/>
<rect x="566.5" y="203.7" width="2.5" height="2.8" fill="#fff"/>
<rect x="572" y="196" width="7" height="13.5" fill="#000"/>
<rect x="573" y="197" width="5" height="11.5" fill="#fff"/>
<rect x="574" y="198" width="4" height="10" fill="#000"/>
<rect x="573" y="198" width="4" height="10" fill="#000"/>
<rect x="573" y="199.5" width="2.5" height="2.8" fill="#fff"/>
<rect x="573" y="203.7" width="2.5" height="2.8" fill="#fff"/>
<rect x="577" y="197" width="1" height="11.5" fill="#fff"/>
<rect x="563" y="215" width="14" height="12" fill="#000"/>
<rect x="564" y="216" width="12" height="10" fill="#fff"/>
<rect x="565" y="217" width="4.2" height="3.2" fill="#000"/>
<rect x="570.8" y="217" width="4.2" height="3.2" fill="#000"/>
<rect x="565" y="221.8" width="4.2" height="3.2" fill="#000"/>
<rect x="570.8" y="221.8" width="4.2" height="3.2" fill="#000"/>
<rect x="572" y="218.2" width="1.8" height="0.8" fill="#fff"/>
<rect x="563" y="229.5" width="14" height="13" fill="#000"/>
<rect x="564" y="230.5" width="12" height="11" fill="#fff"/>
<rect x="565" y="231.5" width="4.2" height="3.7" fill="#000"/>
<rect x="570.8" y="231.5" width="4.2" height="3.7" fill="#000"/>
<rect x="565" y="236.8" width="4.2" height="3.7" fill="#000"/>
<rect x="570.8" y="236.8" width="4.2" height="3.7" fill="#000"/>
<rect x="572" y="232.7" width="1.8" height="1.3" fill="#fff"/>
<rect x="37" y="106" width="13" height="12.5" fill="#000"/>
<rect x="38" y="107" width="11" height="1" fill="#fff"/>
<rect x="38" y="107" width="1" height="11" fill="#fff"/>
<rect x="43" y="107" width="1" height="10.5" fill="#fff"/>
<rect x="38" y="112" width="11" height="1" fill="#fff"/>
<rect x="45.5" y="109" width="2.5" height="1.6" fill="#fff"/>
<polygon points="104.5,64 109,64 131,87 126,87" fill="#000" shape-rendering="auto"/>
<rect x="318.3" y="419" width="2.2" height="6" fill="#000"/>
<rect x="317.5" y="424" width="3.5" height="11" fill="#000"/>
<rect x="499.5" y="419.5" width="2.2" height="5.5" fill="#000"/>
<rect x="498.5" y="424" width="4" height="12" fill="#000"/>
<rect x="537.5" y="419.5" width="2.2" height="5.5" fill="#000"/>
<rect x="536.5" y="424" width="4" height="11" fill="#000"/>
<polygon points="44,32.8 51.23,29.84 60.02,29.3 59.98,26.7 51.17,26.44 44,23.7" fill="#000" shape-rendering="auto"/>
<polygon points="73.5,46 77.14,41.62 82.41,35.93 80.59,34.07 74.76,39.18 71,42" fill="#000" shape-rendering="auto"/>
<polygon points="72,72.8 78.92,70.52 87.13,69.29 86.87,66.71 78.58,67.13 72,66.2" fill="#000" shape-rendering="auto"/>
<polygon points="113.7,34 114.6,41.56 114.7,52.97 117.3,53.03 118,41.64 119.3,34" fill="#000" shape-rendering="auto"/>
<polygon points="101,82 99.2,75.7 98.8,64 96.2,64 95.8,75.7 94,82" fill="#000" shape-rendering="auto"/>
<polygon points="150.44,40.24 145.51,47.49 140.11,52.55 141.89,54.45 147.29,49.39 155.56,44.26" fill="#000" shape-rendering="auto"/>
<polygon points="174,51.2 167.31,53.58 159.04,53.7 158.96,56.3 167.19,56.97 174,59.8" fill="#000" shape-rendering="auto"/>
<polygon points="151.5,69 147.34,65.81 141.87,60.17 140.13,61.83 145.46,67.59 148.5,72" fill="#000" shape-rendering="auto"/>
<polygon points="172,8.7 165.22,10.66 156.98,11.2 157.02,13.8 165.28,14.06 172,15.8" fill="#000" shape-rendering="auto"/>
<polygon points="272,48.8 278.98,46.2 287.5,45.8 287.5,43.2 278.98,42.8 272,40.2" fill="#000" shape-rendering="auto"/>
<polygon points="336.5,40.2 329.52,42.8 321,43.2 321,45.8 329.52,46.2 336.5,48.8" fill="#000" shape-rendering="auto"/>
<polygon points="316,186.8 322.75,184.2 331,183.8 331,181.2 322.75,180.8 316,178.2" fill="#000" shape-rendering="auto"/>
<polygon points="297.8,227.11 301.9,230.86 308.05,236.88 309.95,235.12 304.4,228.54 300.7,223.89" fill="#000" shape-rendering="auto"/>
<polygon points="293,254.8 299.89,252.79 308.44,252.8 308.56,250.2 300.06,249.39 293,246.7" fill="#000" shape-rendering="auto"/>
<polygon points="431,231.3 438.88,229.37 446.9,229.8 447.1,227.2 439.12,226.38 431,223.2" fill="#000" shape-rendering="auto"/>
<polygon points="551.9,191.2 556.28,195.93 563.03,202.87 564.97,201.13 558.82,193.67 554.6,188.8" fill="#000" shape-rendering="auto"/>
<polygon points="587.07,192.54 583.59,196.06 578.63,201.03 580.37,202.97 585.86,198.59 590.93,194.46" fill="#000" shape-rendering="auto"/>
<polygon points="549,224.8 555.69,222.42 563.96,222.3 564.04,219.7 555.81,219.03 549,216.2" fill="#000" shape-rendering="auto"/>
<polygon points="554.06,245.25 558.15,241.74 564.8,236.02 563.2,233.98 556.05,239.06 550.94,242.75" fill="#000" shape-rendering="auto"/>
<polygon points="628,204.2 621.31,206.08 613.04,206.2 612.96,208.8 621.19,209.47 628,211.8" fill="#000" shape-rendering="auto"/>
<polygon points="247,296.2 240.67,298.66 232.98,299.2 233.02,301.8 240.73,302.06 247,304.3" fill="#000" shape-rendering="auto"/>
<polygon points="47.3,136.5 46.24,128.15 45.8,117.98 43.2,118.02 43.04,128.2 42.2,136.5" fill="#000" shape-rendering="auto"/>
<polygon points="323.7,370 325.55,378.2 325.7,386.46 328.3,386.54 328.95,378.3 331.3,370" fill="#000" shape-rendering="auto"/>
<polygon points="483.7,370 485.18,378.17 485.2,386.44 487.8,386.56 488.57,378.33 490.8,370" fill="#000" shape-rendering="auto"/>
<polygon points="534.2,370 536.05,378.2 536.2,386.46 538.8,386.54 539.45,378.3 541.8,370" fill="#000" shape-rendering="auto"/>
<polygon points="411.2,390 412.8,396.12 413.2,407.5 415.8,407.5 416.2,396.12 417.8,390" fill="#000" shape-rendering="auto"/>
<rect x="3.5" y="19" width="40.5" height="18.5" rx="3" fill="#000" shape-rendering="auto"/>
<rect x="5.1" y="20.6" width="36.8" height="14.2" rx="1.6" fill="#fff" shape-rendering="auto"/>
<text transform="translate(8.5,32) scale(0.7,1)" font-size="14" fill="#000" stroke="#000" stroke-width="0.04">J</text>
<text transform="translate(15.1,32) scale(0.7,1)" font-size="14" fill="#000" stroke="#000" stroke-width="0.04">P</text>
<text transform="translate(23.34,32) scale(0.8,1)" font-size="14" fill="#000" stroke="#000" stroke-width="0.04">1</text>
<text transform="translate(31.27,32) scale(0.8,1)" font-size="14" fill="#000" stroke="#000" stroke-width="0.04">9</text>
<rect x="32" y="41" width="41.5" height="19" rx="3" fill="#000" shape-rendering="auto"/>
<rect x="33.6" y="42.6" width="37.8" height="14.7" rx="1.6" fill="#fff" shape-rendering="auto"/>
<text transform="translate(39,54) scale(0.7,1)" font-size="14" fill="#000" stroke="#000" stroke-width="0.04">J</text>
<text transform="translate(45.44,54) scale(0.7,1)" font-size="14" fill="#000" stroke="#000" stroke-width="0.04">P</text>
<text transform="translate(53.51,54) scale(0.8,1)" font-size="14" fill="#000" stroke="#000" stroke-width="0.04">1</text>
<text transform="translate(61.27,54) scale(0.8,1)" font-size="14" fill="#000" stroke="#000" stroke-width="0.04">7</text>
<rect x="30" y="60.5" width="42" height="17" rx="3" fill="#000" shape-rendering="auto"/>
<rect x="31.6" y="62.1" width="38.3" height="12.7" rx="1.6" fill="#fff" shape-rendering="auto"/>
<text transform="translate(35,73) scale(0.7,1)" font-size="14" fill="#000" stroke="#000" stroke-width="0.04">J</text>
<text transform="translate(41.94,73) scale(0.7,1)" font-size="14" fill="#000" stroke="#000" stroke-width="0.04">P</text>
<text transform="translate(50.51,73) scale(0.8,1)" font-size="14" fill="#000" stroke="#000" stroke-width="0.04">2</text>
<text transform="translate(58.77,73) scale(0.8,1)" font-size="14" fill="#000" stroke="#000" stroke-width="0.04">7</text>
<rect x="95" y="16.5" width="41.5" height="18" rx="3" fill="#000" shape-rendering="auto"/>
<rect x="96.6" y="18.1" width="37.8" height="13.7" rx="1.6" fill="#fff" shape-rendering="auto"/>
<text transform="translate(100,29) scale(0.7,1)" font-size="14" fill="#000" stroke="#000" stroke-width="0.04">J</text>
<text transform="translate(106.77,29) scale(0.7,1)" font-size="14" fill="#000" stroke="#000" stroke-width="0.04">P</text>
<text transform="translate(115.18,29) scale(0.8,1)" font-size="14" fill="#000" stroke="#000" stroke-width="0.04">1</text>
<text transform="translate(123.27,29) scale(0.8,1)" font-size="14" fill="#000" stroke="#000" stroke-width="0.04">4</text>
<rect x="77" y="82" width="42.5" height="18" rx="3" fill="#000" shape-rendering="auto"/>
<rect x="78.6" y="83.6" width="38.8" height="13.7" rx="1.6" fill="#fff" shape-rendering="auto"/>
<text transform="translate(82.5,95.5) scale(0.7,1)" font-size="14" fill="#000" stroke="#000" stroke-width="0.04">J</text>
<text transform="translate(89.1,95.5) scale(0.7,1)" font-size="14" fill="#000" stroke="#000" stroke-width="0.04">P</text>
<text transform="translate(97.34,95.5) scale(0.8,1)" font-size="14" fill="#000" stroke="#000" stroke-width="0.04">1</text>
<text transform="translate(105.27,95.5) scale(0.8,1)" font-size="14" fill="#000" stroke="#000" stroke-width="0.04">6</text>
<rect x="148.5" y="27" width="41" height="18" rx="3" fill="#000" shape-rendering="auto"/>
<rect x="150.1" y="28.6" width="37.3" height="13.7" rx="1.6" fill="#fff" shape-rendering="auto"/>
<text transform="translate(153,40) scale(0.7,1)" font-size="14" fill="#000" stroke="#000" stroke-width="0.04">J</text>
<text transform="translate(159.77,40) scale(0.7,1)" font-size="14" fill="#000" stroke="#000" stroke-width="0.04">P</text>
<text transform="translate(168.18,40) scale(0.8,1)" font-size="14" fill="#000" stroke="#000" stroke-width="0.04">1</text>
<text transform="translate(176.27,40) scale(0.8,1)" font-size="14" fill="#000" stroke="#000" stroke-width="0.04">3</text>
<rect x="173" y="46.5" width="41.5" height="18" rx="3" fill="#000" shape-rendering="auto"/>
<rect x="174.6" y="48.1" width="37.8" height="13.7" rx="1.6" fill="#fff" shape-rendering="auto"/>
<text transform="translate(178.5,59) scale(0.7,1)" font-size="14" fill="#000" stroke="#000" stroke-width="0.04">J</text>
<text transform="translate(184.77,59) scale(0.7,1)" font-size="14" fill="#000" stroke="#000" stroke-width="0.04">P</text>
<text transform="translate(192.68,59) scale(0.8,1)" font-size="14" fill="#000" stroke="#000" stroke-width="0.04">1</text>
<text transform="translate(200.27,59) scale(0.8,1)" font-size="14" fill="#000" stroke="#000" stroke-width="0.04">1</text>
<rect x="148" y="68.5" width="40.5" height="17" rx="3" fill="#000" shape-rendering="auto"/>
<rect x="149.6" y="70.1" width="36.8" height="12.7" rx="1.6" fill="#fff" shape-rendering="auto"/>
<text transform="translate(153,80.5) scale(0.7,1)" font-size="14" fill="#000" stroke="#000" stroke-width="0.04">J</text>
<text transform="translate(159.6,80.5) scale(0.7,1)" font-size="14" fill="#000" stroke="#000" stroke-width="0.04">P</text>
<text transform="translate(167.84,80.5) scale(0.8,1)" font-size="14" fill="#000" stroke="#000" stroke-width="0.04">1</text>
<text transform="translate(175.77,80.5) scale(0.8,1)" font-size="14" fill="#000" stroke="#000" stroke-width="0.04">2</text>
<rect x="126" y="86.5" width="39" height="17.5" rx="3" fill="#000" shape-rendering="auto"/>
<rect x="127.6" y="88.1" width="35.3" height="13.2" rx="1.6" fill="#fff" shape-rendering="auto"/>
<text transform="translate(131.5,99.5) scale(0.7,1)" font-size="14" fill="#000" stroke="#000" stroke-width="0.04">J</text>
<text transform="translate(137.94,99.5) scale(0.7,1)" font-size="14" fill="#000" stroke="#000" stroke-width="0.04">P</text>
<text transform="translate(146.01,99.5) scale(0.8,1)" font-size="14" fill="#000" stroke="#000" stroke-width="0.04">1</text>
<text transform="translate(153.77,99.5) scale(0.8,1)" font-size="14" fill="#000" stroke="#000" stroke-width="0.04">5</text>
<rect x="171.5" y="4" width="25" height="17.5" rx="3" fill="#000" shape-rendering="auto"/>
<rect x="173.1" y="5.6" width="21.3" height="13.2" rx="1.6" fill="#fff" shape-rendering="auto"/>
<text transform="translate(177,16) scale(0.7,1)" font-size="14" fill="#000" stroke="#000" stroke-width="0.04">J</text>
<text transform="translate(182.77,16) scale(0.8,1)" font-size="14" fill="#000" stroke="#000" stroke-width="0.04">8</text>
<rect x="237" y="35" width="35" height="18.5" rx="3" fill="#000" shape-rendering="auto"/>
<rect x="238.6" y="36.6" width="31.3" height="14.2" rx="1.6" fill="#fff" shape-rendering="auto"/>
<text transform="translate(243,48.5) scale(0.7,1)" font-size="14" fill="#000" stroke="#000" stroke-width="0.04">J</text>
<text transform="translate(249.57,48.5) scale(0.7,1)" font-size="14" fill="#000" stroke="#000" stroke-width="0.04">P</text>
<text transform="translate(257.77,48.5) scale(0.8,1)" font-size="14" fill="#000" stroke="#000" stroke-width="0.04">9</text>
<rect x="336" y="35" width="35" height="18.5" rx="3" fill="#000" shape-rendering="auto"/>
<rect x="337.6" y="36.6" width="31.3" height="14.2" rx="1.6" fill="#fff" shape-rendering="auto"/>
<text transform="translate(341,48.5) scale(0.7,1)" font-size="14" fill="#000" stroke="#000" stroke-width="0.04">J</text>
<text transform="translate(347.82,48.5) scale(0.7,1)" font-size="14" fill="#000" stroke="#000" stroke-width="0.04">P</text>
<text transform="translate(356.27,48.5) scale(0.8,1)" font-size="14" fill="#000" stroke="#000" stroke-width="0.04">8</text>
<rect x="274" y="174" width="42.5" height="18.5" rx="3" fill="#000" shape-rendering="auto"/>
<rect x="275.6" y="175.6" width="38.8" height="14.2" rx="1.6" fill="#fff" shape-rendering="auto"/>
<text transform="translate(279.5,187.5) scale(0.7,1)" font-size="14" fill="#000" stroke="#000" stroke-width="0.04">J</text>
<text transform="translate(285.94,187.5) scale(0.7,1)" font-size="14" fill="#000" stroke="#000" stroke-width="0.04">P</text>
<text transform="translate(294.01,187.5) scale(0.8,1)" font-size="14" fill="#000" stroke="#000" stroke-width="0.04">2</text>
<text transform="translate(301.77,187.5) scale(0.8,1)" font-size="14" fill="#000" stroke="#000" stroke-width="0.04">2</text>
<rect x="267" y="211" width="35" height="19" rx="3" fill="#000" shape-rendering="auto"/>
<rect x="268.6" y="212.6" width="31.3" height="14.7" rx="1.6" fill="#fff" shape-rendering="auto"/>
<text transform="translate(272.5,224.5) scale(0.7,1)" font-size="14" fill="#000" stroke="#000" stroke-width="0.04">J</text>
<text transform="translate(279.32,224.5) scale(0.7,1)" font-size="14" fill="#000" stroke="#000" stroke-width="0.04">P</text>
<text transform="translate(287.77,224.5) scale(0.8,1)" font-size="14" fill="#000" stroke="#000" stroke-width="0.04">7</text>
<rect x="258.5" y="242" width="34.5" height="18.5" rx="3" fill="#000" shape-rendering="auto"/>
<rect x="260.1" y="243.6" width="30.8" height="14.2" rx="1.6" fill="#fff" shape-rendering="auto"/>
<text transform="translate(263.5,255.5) scale(0.7,1)" font-size="14" fill="#000" stroke="#000" stroke-width="0.04">J</text>
<text transform="translate(270.57,255.5) scale(0.7,1)" font-size="14" fill="#000" stroke="#000" stroke-width="0.04">P</text>
<text transform="translate(279.27,255.5) scale(0.8,1)" font-size="14" fill="#000" stroke="#000" stroke-width="0.04">6</text>
<rect x="522.5" y="177" width="33" height="17" rx="3" fill="#000" shape-rendering="auto"/>
<rect x="524.1" y="178.6" width="29.3" height="12.7" rx="1.6" fill="#fff" shape-rendering="auto"/>
<text transform="translate(527,190) scale(0.7,1)" font-size="14" fill="#000" stroke="#000" stroke-width="0.04">J</text>
<text transform="translate(533.82,190) scale(0.7,1)" font-size="14" fill="#000" stroke="#000" stroke-width="0.04">P</text>
<text transform="translate(542.27,190) scale(0.8,1)" font-size="14" fill="#000" stroke="#000" stroke-width="0.04">4</text>
<rect x="585.5" y="178" width="33" height="17" fill="#000"/>
<rect x="587" y="179" width="30" height="14" fill="#fff"/>
<text transform="translate(590.5,190) scale(0.7,1)" font-size="14" fill="#000" stroke="#000" stroke-width="0.04">J</text>
<text transform="translate(597.07,190) scale(0.7,1)" font-size="14" fill="#000" stroke="#000" stroke-width="0.04">P</text>
<text transform="translate(605.27,190) scale(0.8,1)" font-size="14" fill="#000" stroke="#000" stroke-width="0.04">3</text>
<rect x="513.5" y="211.5" width="35.5" height="18" rx="3" fill="#000" shape-rendering="auto"/>
<rect x="515.1" y="213.1" width="31.8" height="13.7" rx="1.6" fill="#fff" shape-rendering="auto"/>
<text transform="translate(519.5,224) scale(0.7,1)" font-size="14" fill="#000" stroke="#000" stroke-width="0.04">J</text>
<text transform="translate(526.07,224) scale(0.7,1)" font-size="14" fill="#000" stroke="#000" stroke-width="0.04">P</text>
<text transform="translate(534.27,224) scale(0.8,1)" font-size="14" fill="#000" stroke="#000" stroke-width="0.04">2</text>
<rect x="523.3" y="240.5" width="32.7" height="18.5" rx="3" fill="#000" shape-rendering="auto"/>
<rect x="524.9" y="242.1" width="29" height="14.2" rx="1.6" fill="#fff" shape-rendering="auto"/>
<text transform="translate(527,252.3) scale(0.7,1)" font-size="14" fill="#000" stroke="#000" stroke-width="0.04">J</text>
<text transform="translate(534.07,252.3) scale(0.7,1)" font-size="14" fill="#000" stroke="#000" stroke-width="0.04">P</text>
<text transform="translate(542.77,252.3) scale(0.8,1)" font-size="14" fill="#000" stroke="#000" stroke-width="0.04">1</text>
<rect x="628" y="199" width="41" height="17" rx="3" fill="#000" shape-rendering="auto"/>
<rect x="629.6" y="200.6" width="37.3" height="12.7" rx="1.6" fill="#fff" shape-rendering="auto"/>
<text transform="translate(632.5,211.5) scale(0.7,1)" font-size="14" fill="#000" stroke="#000" stroke-width="0.04">J</text>
<text transform="translate(639.1,211.5) scale(0.7,1)" font-size="14" fill="#000" stroke="#000" stroke-width="0.04">P</text>
<text transform="translate(647.34,211.5) scale(0.8,1)" font-size="14" fill="#000" stroke="#000" stroke-width="0.04">2</text>
<text transform="translate(655.27,211.5) scale(0.8,1)" font-size="14" fill="#000" stroke="#000" stroke-width="0.04">1</text>
<rect x="247" y="291" width="42" height="18" rx="3" fill="#000" shape-rendering="auto"/>
<rect x="248.6" y="292.6" width="38.3" height="13.7" rx="1.6" fill="#fff" shape-rendering="auto"/>
<text transform="translate(252,304) scale(0.7,1)" font-size="14" fill="#000" stroke="#000" stroke-width="0.04">J</text>
<text transform="translate(258.6,304) scale(0.7,1)" font-size="14" fill="#000" stroke="#000" stroke-width="0.04">P</text>
<text transform="translate(266.84,304) scale(0.8,1)" font-size="14" fill="#000" stroke="#000" stroke-width="0.04">1</text>
<text transform="translate(274.77,304) scale(0.8,1)" font-size="14" fill="#000" stroke="#000" stroke-width="0.04">0</text>
<rect x="315" y="351" width="26" height="19" rx="3" fill="#000" shape-rendering="auto"/>
<rect x="316.6" y="352.6" width="22.3" height="14.7" rx="1.6" fill="#fff" shape-rendering="auto"/>
<text transform="translate(320,364.9) scale(0.7,1)" font-size="14" fill="#000" stroke="#000" stroke-width="0.04">J</text>
<text transform="translate(326.27,364.9) scale(0.8,1)" font-size="14" fill="#000" stroke="#000" stroke-width="0.04">9</text>
<rect x="474" y="351" width="26" height="19" rx="3" fill="#000" shape-rendering="auto"/>
<rect x="475.6" y="352.6" width="22.3" height="14.7" rx="1.6" fill="#fff" shape-rendering="auto"/>
<text transform="translate(479,364.7) scale(0.7,1)" font-size="14" fill="#000" stroke="#000" stroke-width="0.04">J</text>
<text transform="translate(485.47,364.7) scale(0.8,1)" font-size="14" fill="#000" stroke="#000" stroke-width="0.04">6</text>
<rect x="525" y="351" width="26" height="19" rx="3" fill="#000" shape-rendering="auto"/>
<rect x="526.6" y="352.6" width="22.3" height="14.7" rx="1.6" fill="#fff" shape-rendering="auto"/>
<text transform="translate(529.8,364.7) scale(0.7,1)" font-size="14" fill="#000" stroke="#000" stroke-width="0.04">J</text>
<text transform="translate(536.17,364.7) scale(0.8,1)" font-size="14" fill="#000" stroke="#000" stroke-width="0.04">4</text>
<rect x="401" y="372" width="25" height="19" rx="3" fill="#000" shape-rendering="auto"/>
<rect x="402.6" y="373.6" width="21.3" height="14.7" rx="1.6" fill="#fff" shape-rendering="auto"/>
<text transform="translate(405,386) scale(0.7,1)" font-size="14" fill="#000" stroke="#000" stroke-width="0.04">J</text>
<text transform="translate(410.77,386) scale(0.8,1)" font-size="14" fill="#000" stroke="#000" stroke-width="0.04">7</text>
<rect x="26" y="137" width="39" height="17" fill="#fff"/>
<text transform="translate(30,150) scale(0.7,1)" font-size="14" fill="#000" stroke="#000" stroke-width="0.04">J</text>
<text transform="translate(36.27,150) scale(0.7,1)" font-size="14" fill="#000" stroke="#000" stroke-width="0.04">P</text>
<text transform="translate(44.18,150) scale(0.8,1)" font-size="14" fill="#000" stroke="#000" stroke-width="0.04">2</text>
<text transform="translate(51.77,150) scale(0.8,1)" font-size="14" fill="#000" stroke="#000" stroke-width="0.04">0</text>
<rect x="26" y="136" width="32" height="1.3" fill="#000"/>
<rect x="26" y="153.7" width="32" height="1.3" fill="#000"/>
<rect x="395.5" y="217.5" width="35.5" height="17" fill="#000"/>
<rect x="398" y="219" width="31" height="14.5" rx="2" fill="#fff" shape-rendering="auto"/>
<text transform="translate(400.5,229.5) scale(0.7,1)" font-size="14" fill="#000" stroke="#000" stroke-width="0.04">J</text>
<text transform="translate(407.57,229.5) scale(0.7,1)" font-size="14" fill="#000" stroke="#000" stroke-width="0.04">P</text>
<text transform="translate(416.27,229.5) scale(0.8,1)" font-size="14" fill="#000" stroke="#000" stroke-width="0.04">5</text>
<rect x="299" y="434" width="36" height="19.5" fill="#000"/>
<rect x="304" y="437.5" width="29" height="14.3" fill="#fff"/>
<text transform="translate(307,448) scale(0.7,1)" font-size="14" fill="#000" stroke="#000" stroke-width="0.04">J</text>
<text transform="translate(313.47,448) scale(0.8,1)" font-size="14" fill="#000" stroke="#000" stroke-width="0.04">1</text>
<text transform="translate(321.27,448) scale(0.8,1)" font-size="14" fill="#000" stroke="#000" stroke-width="0.04">0</text>
<rect x="319.3" y="431" width="1" height="7" fill="#fff"/>
<rect x="487.5" y="435" width="26" height="18" fill="#000"/>
<rect x="490" y="437.5" width="21" height="14.3" fill="#fff"/>
<text transform="translate(492,448.8) scale(0.7,1)" font-size="14" fill="#000" stroke="#000" stroke-width="0.04">J</text>
<text transform="translate(498.27,448.8) scale(0.8,1)" font-size="14" fill="#000" stroke="#000" stroke-width="0.04">5</text>
<rect x="500.3" y="431" width="1" height="7" fill="#fff"/>
<rect x="524" y="434.5" width="27" height="17.5" fill="#000"/>
<rect x="527" y="436.5" width="21" height="14" fill="#fff"/>
<text transform="translate(530,447.8) scale(0.7,1)" font-size="14" fill="#000" stroke="#000" stroke-width="0.04">J</text>
<text transform="translate(535.77,447.8) scale(0.8,1)" font-size="14" fill="#000" stroke="#000" stroke-width="0.04">3</text>
<rect x="538.3" y="430" width="1" height="7" fill="#fff"/>
<rect x="397" y="237" width="29" height="14" rx="2" fill="#fff" shape-rendering="auto"/>
<text transform="translate(400.5,247.5) scale(0.7,1)" font-size="14" fill="#000" stroke="#000" stroke-width="0.04">P</text>
<text transform="translate(408.62,247.5) scale(0.7,1)" font-size="14" fill="#000" stroke="#000" stroke-width="0.04">C</text>
<text transform="translate(417.27,247.5) scale(0.8,1)" font-size="14" fill="#000" stroke="#000" stroke-width="0.04">1</text>
<rect x="397" y="281" width="29" height="14" rx="2" fill="#fff" shape-rendering="auto"/>
<text transform="translate(400.5,291.8) scale(0.7,1)" font-size="14" fill="#000" stroke="#000" stroke-width="0.04">P</text>
<text transform="translate(408.62,291.8) scale(0.7,1)" font-size="14" fill="#000" stroke="#000" stroke-width="0.04">C</text>
<text transform="translate(417.27,291.8) scale(0.8,1)" font-size="14" fill="#000" stroke="#000" stroke-width="0.04">2</text>
<rect x="397" y="326" width="29" height="14" rx="2" fill="#fff" shape-rendering="auto"/>
<text transform="translate(400.5,337) scale(0.7,1)" font-size="14" fill="#000" stroke="#000" stroke-width="0.04">P</text>
<text transform="translate(408.62,337) scale(0.7,1)" font-size="14" fill="#000" stroke="#000" stroke-width="0.04">C</text>
<text transform="translate(417.27,337) scale(0.8,1)" font-size="14" fill="#000" stroke="#000" stroke-width="0.04">3</text>
<rect x="584" y="121" width="28" height="14" fill="#fff"/>
<text transform="translate(586,133) scale(0.72,1)" font-size="14" textLength="32.64" lengthAdjust="spacing" fill="#000" stroke="#000" stroke-width="0.04">KBD</text>
<rect x="388" y="193" width="40" height="15" rx="2" fill="#fff" shape-rendering="auto"/>
<text transform="translate(394,206) scale(0.72,1)" font-size="14" textLength="38.89" lengthAdjust="spacing" fill="#000" stroke="#000" stroke-width="0.04">BIOS</text>
<rect x="107" y="158" width="36" height="19.8" rx="3" fill="#000" shape-rendering="auto"/>
<rect x="108.5" y="159.5" width="33" height="16.8" rx="1.5" fill="#fff" shape-rendering="auto"/>
<text transform="translate(111,172) scale(0.72,1)" font-size="14" textLength="37.22" lengthAdjust="spacing" fill="#000" stroke="#000" stroke-width="0.04">CPU</text>
<rect x="63.5" y="294.8" width="58" height="17.9" rx="3" fill="#000" shape-rendering="auto"/>
<rect x="65" y="296.3" width="55" height="14.9" rx="1.5" fill="#fff" shape-rendering="auto"/>
<text transform="translate(69.5,307) scale(0.72,1)" font-size="13" textLength="44.44" lengthAdjust="spacing" fill="#000" stroke="#000" stroke-width="0.04">BANK</text>
<text transform="translate(109.7,307) scale(0.82,1)" font-size="13" fill="#000" stroke="#000" stroke-width="0.04">0</text>
<rect x="68.5" y="345.2" width="48.5" height="16.8" rx="3" fill="#000" shape-rendering="auto"/>
<rect x="70" y="346.7" width="45.5" height="13.8" rx="1.5" fill="#fff" shape-rendering="auto"/>
<text transform="translate(71.3,358.1) scale(0.72,1)" font-size="13" textLength="59.31" lengthAdjust="spacing" fill="#000" stroke="#000" stroke-width="0.04">CACHE</text>
<rect x="63.7" y="394.9" width="57.6" height="16.8" rx="3" fill="#000" shape-rendering="auto"/>
<rect x="65.2" y="396.4" width="54.6" height="13.8" rx="1.5" fill="#fff" shape-rendering="auto"/>
<text transform="translate(70,407.8) scale(0.72,1)" font-size="13" textLength="45.14" lengthAdjust="spacing" fill="#000" stroke="#000" stroke-width="0.04">BANK</text>
<text transform="translate(109.7,407.8) scale(0.82,1)" font-size="13" fill="#000" stroke="#000" stroke-width="0.04">1</text>
<rect x="149" y="296" width="32.5" height="17.8" rx="3" fill="#000" shape-rendering="auto"/>
<rect x="150.5" y="297.5" width="29.5" height="14.8" rx="1.5" fill="#fff" shape-rendering="auto"/>
<text transform="translate(153.5,309.8) scale(0.72,1)" font-size="14" textLength="29.86" lengthAdjust="spacing" fill="#000" stroke="#000" stroke-width="0.04">TAG</text>
<rect x="384" y="440" width="61" height="16.5" fill="#000"/>
<rect x="387" y="441" width="55" height="13.8" rx="2" fill="#fff" shape-rendering="auto"/>
<text transform="translate(391,452.5) scale(0.72,1)" font-size="13" textLength="45.83" lengthAdjust="spacing" fill="#000" stroke="#000" stroke-width="0.04">BANK</text>
<text transform="translate(431.7,452.5) scale(0.82,1)" font-size="13" fill="#000" stroke="#000" stroke-width="0.04">0</text>
<rect x="384" y="473" width="61" height="17.5" fill="#000"/>
<rect x="387" y="474" width="55" height="14.8" rx="2" fill="#fff" shape-rendering="auto"/>
<text transform="translate(391,486.8) scale(0.72,1)" font-size="13" textLength="45.83" lengthAdjust="spacing" fill="#000" stroke="#000" stroke-width="0.04">BANK</text>
<text transform="translate(431.5,486.8) scale(0.82,1)" font-size="13" fill="#000" stroke="#000" stroke-width="0.04">1</text>
<text transform="translate(72,26.7) scale(0.9,1)" font-size="12.2" fill="#000" stroke="#000" stroke-width="0.04">2</text>
<text transform="translate(29.3,107.8) scale(0.9,1)" font-size="12.2" fill="#000" stroke="#000" stroke-width="0.04">3</text>
<text transform="translate(49.3,126.9) scale(0.9,1)" font-size="12.2" fill="#000" stroke="#000" stroke-width="0.04">2</text>
<text transform="translate(576.5,229.2) scale(0.9,1)" font-size="11.5" fill="#000" stroke="#000" stroke-width="0.04">2</text>
<text transform="translate(575.7,248) scale(0.9,1)" font-size="11.5" fill="#000" stroke="#000" stroke-width="0.04">2</text>
<polygon points="41,25.75 44,25.7 49.04,28.17 44,30.8 41,30.85" fill="#fff" shape-rendering="auto"/>
<polygon points="69.01,68.5 72,68.2 76.72,69.03 72,70.8 69.01,71.1" fill="#fff" shape-rendering="auto"/>
<polygon points="115.78,31 115.7,34 116.36,39.32 117.3,34 117.38,31" fill="#fff" shape-rendering="auto"/>
<polygon points="152.43,40.55 151.7,41.23 148.38,46.58 154.3,43.27 155.03,42.59" fill="#fff" shape-rendering="auto"/>
<polygon points="177,53.3 174,53.2 169.28,55.34 174,57.8 177,57.9" fill="#fff" shape-rendering="auto"/>
<polygon points="175,10.65 172,10.7 167.28,12.33 172,13.8 175,13.75" fill="#fff" shape-rendering="auto"/>
<polygon points="269,42.2 272,42.2 276.88,44.5 272,46.8 269,46.8" fill="#fff" shape-rendering="auto"/>
<polygon points="339.5,42.2 336.5,42.2 331.62,44.5 336.5,46.8 339.5,46.8" fill="#fff" shape-rendering="auto"/>
<polygon points="313,180.2 316,180.2 320.73,182.5 316,184.8 313,184.8" fill="#fff" shape-rendering="auto"/>
<polygon points="297.1,223.42 299.14,225.62 301.98,228.44 299.36,225.38 297.32,223.18" fill="#fff" shape-rendering="auto"/>
<polygon points="290,248.56 293,248.7 297.88,250.99 293,252.8 290,252.66" fill="#fff" shape-rendering="auto"/>
<polygon points="428.01,224.97 431,225.2 436.6,227.69 431,229.3 428.01,229.07" fill="#fff" shape-rendering="auto"/>
<polygon points="551.25,187.77 553.25,190 556.26,193.36 553.25,190 551.25,187.77" fill="#fff" shape-rendering="auto"/>
<polygon points="591.1,191.43 588.86,193.43 586.01,196.18 589.14,193.57 591.37,191.57" fill="#fff" shape-rendering="auto"/>
<polygon points="546,218.1 549,218.2 553.73,220.66 549,222.8 546,222.7" fill="#fff" shape-rendering="auto"/>
<polygon points="550.14,245.85 552.5,244 555.72,241.48 552.5,244 550.14,245.85" fill="#fff" shape-rendering="auto"/>
<polygon points="631,206.3 628,206.2 623.27,207.84 628,209.8 631,209.9" fill="#fff" shape-rendering="auto"/>
<polygon points="250,298.15 247,298.2 242.59,300.33 247,302.3 250,302.25" fill="#fff" shape-rendering="auto"/>
<polygon points="44.77,138 44.75,136.5 44.67,130.67 44.75,136.5 44.77,138" fill="#fff" shape-rendering="auto"/>
<polygon points="325.79,367 325.7,370 327.32,375.77 329.3,370 329.39,367" fill="#fff" shape-rendering="auto"/>
<polygon points="485.84,367 485.7,370 486.99,375.77 488.8,370 488.94,367" fill="#fff" shape-rendering="auto"/>
<polygon points="536.29,367 536.2,370 537.83,375.77 539.8,370 539.89,367" fill="#fff" shape-rendering="auto"/>
<polygon points="413.2,387 413.2,390 414.5,394.29 415.8,390 415.8,387" fill="#fff" shape-rendering="auto"/>
</g>
</svg>
</body></html>
